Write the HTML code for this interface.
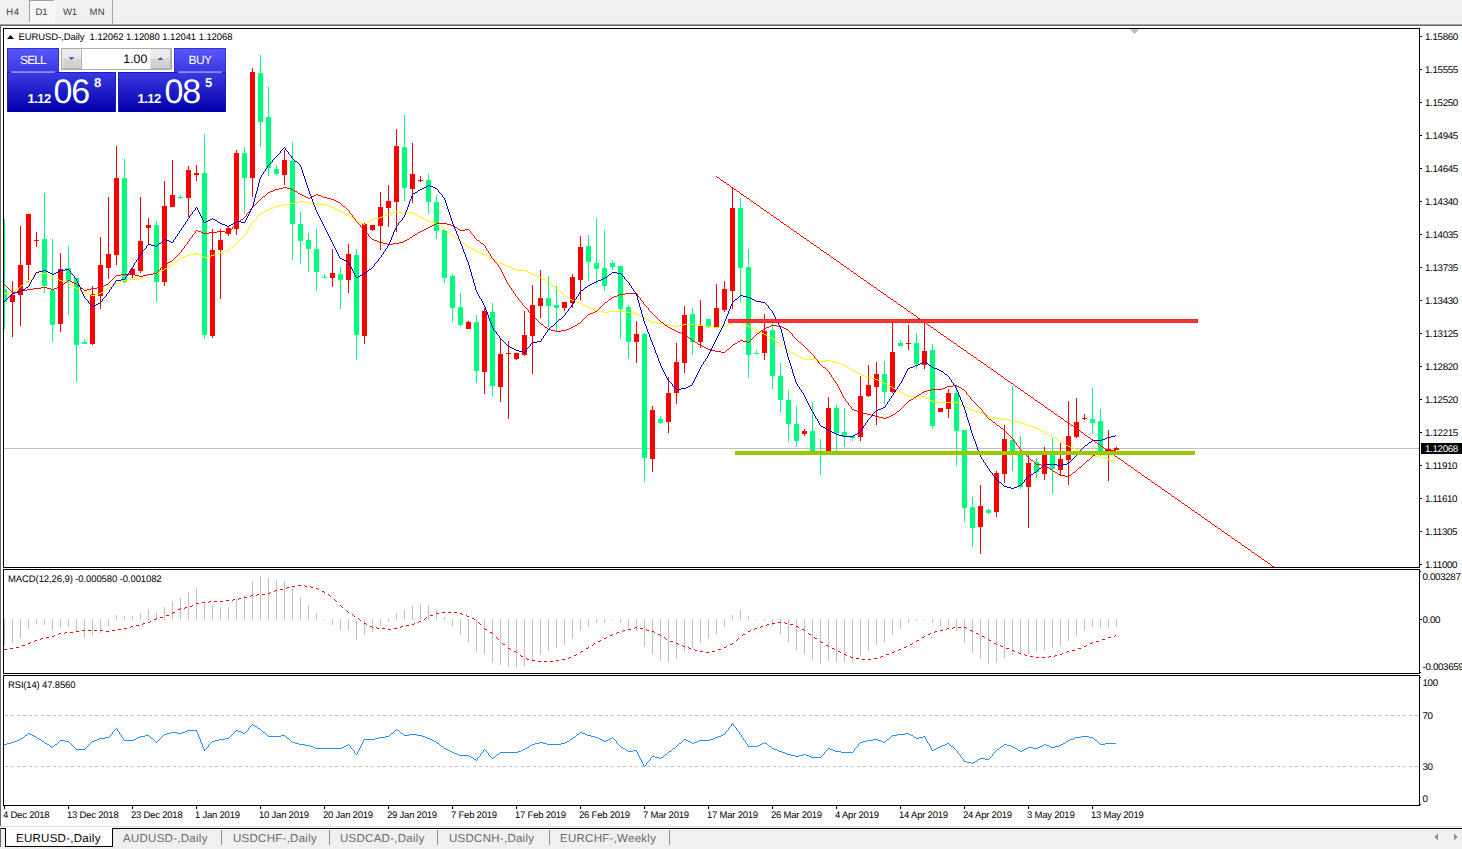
<!DOCTYPE html>
<html><head><meta charset="utf-8"><title>EURUSD</title>
<style>
html,body{margin:0;padding:0;overflow:hidden;}
body{width:1462px;height:849px;overflow:hidden;background:#fff;position:relative;font-family:"Liberation Sans",sans-serif;font-size:11px;color:#000;text-rendering:geometricPrecision;}
div{position:absolute;box-sizing:border-box;}
.topbar{left:0;top:0;width:1462px;height:24px;background:#f0f0f0;}
.tf{top:7.3px;font-size:9.5px;line-height:12px;color:#404040;letter-spacing:-0.1px;}
.plab,.ilab{left:1425px;font-size:9.75px;line-height:12px;white-space:nowrap;letter-spacing:-0.33px;}
.tick{left:1420px;width:2px;height:1px;background:#000;}
.dtick{top:805px;width:1px;height:4px;background:#000;}
.dlab{top:809px;font-size:9.5px;line-height:13px;white-space:nowrap;letter-spacing:-0.22px;}
.tab{top:831.5px;font-size:11.5px;line-height:15px;color:#6a6a6a;white-space:nowrap;letter-spacing:0.27px;}
.sep{top:830px;width:1px;height:15px;background:#8a8a8a;}
svg{position:absolute;left:0;top:0;}
</style></head><body>
<div class="topbar"></div>
<div style="left:0;top:23px;width:1462px;height:1px;background:#f7f7f7"></div><div style="left:0;top:24px;width:1462px;height:1px;background:#a0a0a0"></div><div style="left:0;top:25px;width:1462px;height:1px;background:#696969"></div>
<div style="left:0;top:25px;width:1px;height:801px;background:#696969"></div>
<div style="left:29px;top:0px;width:26px;height:23px;background:#fff"></div><div style="left:29px;top:0px;width:25px;height:22px;background-image:repeating-conic-gradient(#fff 0% 25%,#f0f0f0 0% 50%);background-size:2px 2px;border-left:1px solid #a0a0a0;border-top:1px solid #a0a0a0"></div>
<div class="tf" style="left:6.3px;letter-spacing:0.5px">H4</div>
<div class="tf" style="left:35.5px">D1</div>
<div class="tf" style="left:63px">W1</div>
<div class="tf" style="left:89.5px;letter-spacing:0.3px">MN</div>
<div style="left:112px;top:0;width:1px;height:24px;background:#a8a8a8"></div>

<!-- frames -->
<div style="left:3px;top:28px;width:1417px;height:540px;border:1px solid #000;border-right:none"></div>
<div style="left:3px;top:569px;width:1417px;height:105px;border:1px solid #000;border-right:none"></div>
<div style="left:3px;top:675px;width:1417px;height:131px;border:1px solid #000;border-right:none"></div>
<div style="left:1419px;top:28px;width:1px;height:540px;background:#000"></div><div style="left:1419px;top:569px;width:1px;height:105px;background:#000"></div><div style="left:1419px;top:675px;width:1px;height:131px;background:#000"></div>

<!-- bid line -->
<div style="left:4px;top:448px;width:1415px;height:1px;background:#c0c0c0"></div>
<div style="left:1421px;top:443px;width:41px;height:11px;background:#000"></div>
<div class="plab" style="top:443.5px;color:#fff">1.12068</div>
<div class="tick" style="top:36px"></div><div class="plab" style="top:31.5px">1.15860</div><div class="tick" style="top:69px"></div><div class="plab" style="top:64.5px">1.15555</div><div class="tick" style="top:102px"></div><div class="plab" style="top:97.5px">1.15250</div><div class="tick" style="top:135px"></div><div class="plab" style="top:130.5px">1.14945</div><div class="tick" style="top:168px"></div><div class="plab" style="top:163.5px">1.14645</div><div class="tick" style="top:201px"></div><div class="plab" style="top:196.5px">1.14340</div><div class="tick" style="top:234px"></div><div class="plab" style="top:229.5px">1.14035</div><div class="tick" style="top:267px"></div><div class="plab" style="top:262.5px">1.13735</div><div class="tick" style="top:300px"></div><div class="plab" style="top:295.5px">1.13430</div><div class="tick" style="top:333px"></div><div class="plab" style="top:328.5px">1.13125</div><div class="tick" style="top:366px"></div><div class="plab" style="top:361.5px">1.12820</div><div class="tick" style="top:399px"></div><div class="plab" style="top:394.5px">1.12520</div><div class="tick" style="top:432px"></div><div class="plab" style="top:427.5px">1.12215</div><div class="tick" style="top:465px"></div><div class="plab" style="top:460.5px">1.11910</div><div class="tick" style="top:498px"></div><div class="plab" style="top:493.5px">1.11610</div><div class="tick" style="top:531px"></div><div class="plab" style="top:526.5px">1.11305</div><div class="tick" style="top:564px"></div><div class="plab" style="top:559.5px">1.11000</div>
<div class="ilab" style="left:1422.5px;top:571.5px">0.003287</div><div class="tick" style="top:571px;width:1px"></div>
<div class="tick" style="top:619px"></div><div class="ilab" style="left:1422.5px;top:614.5px">0.00</div>
<div class="ilab" style="left:1422.5px;top:661.5px">-0.003659</div><div class="tick" style="top:672px;width:1px"></div>
<div class="ilab" style="left:1422.5px;top:677.5px">100</div><div class="tick" style="top:677px;width:1px"></div>
<div class="ilab" style="left:1422.5px;top:710.5px">70</div>
<div class="ilab" style="left:1422.5px;top:761.5px">30</div>
<div class="ilab" style="left:1422.5px;top:793.5px">0</div><div class="tick" style="top:804px;width:1px"></div>
<div class="dtick" style="left:4px"></div><div class="dlab" style="left:3px">4 Dec 2018</div><div class="dtick" style="left:68px"></div><div class="dlab" style="left:67px">13 Dec 2018</div><div class="dtick" style="left:132px"></div><div class="dlab" style="left:131px">23 Dec 2018</div><div class="dtick" style="left:196px"></div><div class="dlab" style="left:195px">1 Jan 2019</div><div class="dtick" style="left:260px"></div><div class="dlab" style="left:259px">10 Jan 2019</div><div class="dtick" style="left:324px"></div><div class="dlab" style="left:323px">20 Jan 2019</div><div class="dtick" style="left:388px"></div><div class="dlab" style="left:387px">29 Jan 2019</div><div class="dtick" style="left:452px"></div><div class="dlab" style="left:451px">7 Feb 2019</div><div class="dtick" style="left:516px"></div><div class="dlab" style="left:515px">17 Feb 2019</div><div class="dtick" style="left:580px"></div><div class="dlab" style="left:579px">26 Feb 2019</div><div class="dtick" style="left:644px"></div><div class="dlab" style="left:643px">7 Mar 2019</div><div class="dtick" style="left:708px"></div><div class="dlab" style="left:707px">17 Mar 2019</div><div class="dtick" style="left:772px"></div><div class="dlab" style="left:771px">26 Mar 2019</div><div class="dtick" style="left:836px"></div><div class="dlab" style="left:835px">4 Apr 2019</div><div class="dtick" style="left:900px"></div><div class="dlab" style="left:899px">14 Apr 2019</div><div class="dtick" style="left:964px"></div><div class="dlab" style="left:963px">24 Apr 2019</div><div class="dtick" style="left:1028px"></div><div class="dlab" style="left:1027px">3 May 2019</div><div class="dtick" style="left:1092px"></div><div class="dlab" style="left:1091px">13 May 2019</div>

<svg width="1462" height="849" viewBox="0 0 1462 849" shape-rendering="crispEdges">
<line x1="5" y1="715.5" x2="1419" y2="715.5" stroke="#c0c0c0" stroke-dasharray="3,3"/>
<line x1="5" y1="766.5" x2="1419" y2="766.5" stroke="#c0c0c0" stroke-dasharray="3,3"/>
<path d="M1130 29h9v1h-9zM1131 30h7v1h-7zM1132 31h5v1h-5zM1133 32h3v1h-3zM1134 33h1v1h-1z" fill="#c0c0c0"/>
<defs><clipPath id="cc"><rect x="4" y="29" width="1415" height="538"/></clipPath></defs><g clip-path="url(#cc)"><rect x="4" y="219" width="1" height="110" fill="#00ff7f"/>
<rect x="2" y="289" width="5" height="13" fill="#00ff7f"/>
<rect x="12" y="281" width="1" height="56" fill="#ff0000"/>
<rect x="10" y="295" width="5" height="7" fill="#ff0000"/>
<rect x="20" y="226" width="1" height="100" fill="#ff0000"/>
<rect x="18" y="265" width="5" height="30" fill="#ff0000"/>
<rect x="28" y="214" width="1" height="68" fill="#ff0000"/>
<rect x="26" y="214" width="5" height="51" fill="#ff0000"/>
<rect x="36" y="232" width="1" height="15" fill="#ff0000"/>
<rect x="34" y="240" width="5" height="1" fill="#ff0000"/>
<rect x="44" y="193" width="1" height="100" fill="#00ff7f"/>
<rect x="42" y="239" width="5" height="47" fill="#00ff7f"/>
<rect x="52" y="239" width="1" height="103" fill="#00ff7f"/>
<rect x="50" y="290" width="5" height="35" fill="#00ff7f"/>
<rect x="60" y="253" width="1" height="79" fill="#ff0000"/>
<rect x="58" y="269" width="5" height="55" fill="#ff0000"/>
<rect x="68" y="246" width="1" height="69" fill="#00ff7f"/>
<rect x="66" y="268" width="5" height="13" fill="#00ff7f"/>
<rect x="76" y="278" width="1" height="104" fill="#00ff7f"/>
<rect x="74" y="278" width="5" height="67" fill="#00ff7f"/>
<rect x="84" y="339" width="1" height="5" fill="#00ff7f"/>
<rect x="82" y="342" width="5" height="2" fill="#00ff7f"/>
<rect x="92" y="286" width="1" height="59" fill="#ff0000"/>
<rect x="90" y="294" width="5" height="50" fill="#ff0000"/>
<rect x="100" y="237" width="1" height="72" fill="#ff0000"/>
<rect x="98" y="265" width="5" height="31" fill="#ff0000"/>
<rect x="108" y="197" width="1" height="82" fill="#ff0000"/>
<rect x="106" y="254" width="5" height="14" fill="#ff0000"/>
<rect x="116" y="146" width="1" height="119" fill="#ff0000"/>
<rect x="114" y="178" width="5" height="77" fill="#ff0000"/>
<rect x="124" y="159" width="1" height="124" fill="#00ff7f"/>
<rect x="122" y="178" width="5" height="104" fill="#00ff7f"/>
<rect x="132" y="268" width="1" height="10" fill="#ff0000"/>
<rect x="130" y="269" width="5" height="6" fill="#ff0000"/>
<rect x="140" y="197" width="1" height="76" fill="#ff0000"/>
<rect x="138" y="241" width="5" height="30" fill="#ff0000"/>
<rect x="148" y="218" width="1" height="27" fill="#ff0000"/>
<rect x="146" y="225" width="5" height="3" fill="#ff0000"/>
<rect x="156" y="221" width="1" height="81" fill="#00ff7f"/>
<rect x="154" y="225" width="5" height="57" fill="#00ff7f"/>
<rect x="164" y="181" width="1" height="105" fill="#ff0000"/>
<rect x="162" y="206" width="5" height="76" fill="#ff0000"/>
<rect x="172" y="160" width="1" height="47" fill="#ff0000"/>
<rect x="170" y="195" width="5" height="12" fill="#ff0000"/>
<rect x="180" y="195" width="1" height="4" fill="#00ff7f"/>
<rect x="178" y="197" width="5" height="1" fill="#00ff7f"/>
<rect x="188" y="166" width="1" height="51" fill="#ff0000"/>
<rect x="186" y="170" width="5" height="28" fill="#ff0000"/>
<rect x="196" y="165" width="1" height="16" fill="#ff0000"/>
<rect x="194" y="173" width="5" height="2" fill="#ff0000"/>
<rect x="204" y="134" width="1" height="205" fill="#00ff7f"/>
<rect x="202" y="173" width="5" height="162" fill="#00ff7f"/>
<rect x="212" y="229" width="1" height="109" fill="#ff0000"/>
<rect x="210" y="250" width="5" height="86" fill="#ff0000"/>
<rect x="220" y="229" width="1" height="70" fill="#ff0000"/>
<rect x="218" y="240" width="5" height="10" fill="#ff0000"/>
<rect x="228" y="226" width="1" height="10" fill="#ff0000"/>
<rect x="226" y="228" width="5" height="6" fill="#ff0000"/>
<rect x="236" y="150" width="1" height="85" fill="#ff0000"/>
<rect x="234" y="153" width="5" height="76" fill="#ff0000"/>
<rect x="244" y="147" width="1" height="67" fill="#00ff7f"/>
<rect x="242" y="153" width="5" height="25" fill="#00ff7f"/>
<rect x="252" y="68" width="1" height="129" fill="#ff0000"/>
<rect x="250" y="72" width="5" height="106" fill="#ff0000"/>
<rect x="260" y="55" width="1" height="92" fill="#00ff7f"/>
<rect x="258" y="73" width="5" height="49" fill="#00ff7f"/>
<rect x="268" y="87" width="1" height="89" fill="#00ff7f"/>
<rect x="266" y="117" width="5" height="51" fill="#00ff7f"/>
<rect x="276" y="165" width="1" height="10" fill="#00ff7f"/>
<rect x="274" y="169" width="5" height="5" fill="#00ff7f"/>
<rect x="284" y="150" width="1" height="35" fill="#ff0000"/>
<rect x="282" y="160" width="5" height="15" fill="#ff0000"/>
<rect x="292" y="142" width="1" height="118" fill="#00ff7f"/>
<rect x="290" y="161" width="5" height="63" fill="#00ff7f"/>
<rect x="300" y="212" width="1" height="52" fill="#00ff7f"/>
<rect x="298" y="224" width="5" height="17" fill="#00ff7f"/>
<rect x="308" y="233" width="1" height="39" fill="#00ff7f"/>
<rect x="306" y="240" width="5" height="9" fill="#00ff7f"/>
<rect x="316" y="229" width="1" height="62" fill="#00ff7f"/>
<rect x="314" y="249" width="5" height="23" fill="#00ff7f"/>
<rect x="324" y="274" width="1" height="4" fill="#00ff7f"/>
<rect x="322" y="277" width="5" height="1" fill="#00ff7f"/>
<rect x="332" y="249" width="1" height="38" fill="#ff0000"/>
<rect x="330" y="273" width="5" height="5" fill="#ff0000"/>
<rect x="340" y="267" width="1" height="42" fill="#00ff7f"/>
<rect x="338" y="274" width="5" height="6" fill="#00ff7f"/>
<rect x="348" y="244" width="1" height="49" fill="#ff0000"/>
<rect x="346" y="254" width="5" height="26" fill="#ff0000"/>
<rect x="356" y="249" width="1" height="111" fill="#00ff7f"/>
<rect x="354" y="255" width="5" height="80" fill="#00ff7f"/>
<rect x="364" y="223" width="1" height="121" fill="#ff0000"/>
<rect x="362" y="224" width="5" height="112" fill="#ff0000"/>
<rect x="372" y="225" width="1" height="6" fill="#ff0000"/>
<rect x="370" y="225" width="5" height="5" fill="#ff0000"/>
<rect x="380" y="192" width="1" height="58" fill="#ff0000"/>
<rect x="378" y="207" width="5" height="19" fill="#ff0000"/>
<rect x="388" y="185" width="1" height="42" fill="#ff0000"/>
<rect x="386" y="201" width="5" height="7" fill="#ff0000"/>
<rect x="396" y="129" width="1" height="103" fill="#ff0000"/>
<rect x="394" y="146" width="5" height="56" fill="#ff0000"/>
<rect x="404" y="115" width="1" height="86" fill="#00ff7f"/>
<rect x="402" y="147" width="5" height="41" fill="#00ff7f"/>
<rect x="412" y="143" width="1" height="60" fill="#ff0000"/>
<rect x="410" y="174" width="5" height="15" fill="#ff0000"/>
<rect x="420" y="176" width="1" height="6" fill="#ff0000"/>
<rect x="418" y="180" width="5" height="1" fill="#ff0000"/>
<rect x="428" y="174" width="1" height="40" fill="#00ff7f"/>
<rect x="426" y="180" width="5" height="22" fill="#00ff7f"/>
<rect x="436" y="195" width="1" height="44" fill="#00ff7f"/>
<rect x="434" y="202" width="5" height="29" fill="#00ff7f"/>
<rect x="444" y="230" width="1" height="53" fill="#00ff7f"/>
<rect x="442" y="230" width="5" height="48" fill="#00ff7f"/>
<rect x="452" y="274" width="1" height="48" fill="#00ff7f"/>
<rect x="450" y="276" width="5" height="32" fill="#00ff7f"/>
<rect x="460" y="293" width="1" height="33" fill="#00ff7f"/>
<rect x="458" y="307" width="5" height="18" fill="#00ff7f"/>
<rect x="468" y="321" width="1" height="8" fill="#ff0000"/>
<rect x="466" y="322" width="5" height="7" fill="#ff0000"/>
<rect x="476" y="315" width="1" height="68" fill="#00ff7f"/>
<rect x="474" y="322" width="5" height="49" fill="#00ff7f"/>
<rect x="484" y="308" width="1" height="86" fill="#ff0000"/>
<rect x="482" y="311" width="5" height="61" fill="#ff0000"/>
<rect x="492" y="303" width="1" height="93" fill="#00ff7f"/>
<rect x="490" y="312" width="5" height="74" fill="#00ff7f"/>
<rect x="500" y="338" width="1" height="64" fill="#ff0000"/>
<rect x="498" y="354" width="5" height="33" fill="#ff0000"/>
<rect x="508" y="341" width="1" height="78" fill="#ff0000"/>
<rect x="506" y="353" width="5" height="1" fill="#ff0000"/>
<rect x="516" y="353" width="1" height="7" fill="#ff0000"/>
<rect x="514" y="353" width="5" height="6" fill="#ff0000"/>
<rect x="524" y="311" width="1" height="45" fill="#ff0000"/>
<rect x="522" y="335" width="5" height="20" fill="#ff0000"/>
<rect x="532" y="285" width="1" height="89" fill="#ff0000"/>
<rect x="530" y="305" width="5" height="31" fill="#ff0000"/>
<rect x="540" y="270" width="1" height="48" fill="#ff0000"/>
<rect x="538" y="298" width="5" height="8" fill="#ff0000"/>
<rect x="548" y="276" width="1" height="51" fill="#00ff7f"/>
<rect x="546" y="298" width="5" height="8" fill="#00ff7f"/>
<rect x="556" y="286" width="1" height="46" fill="#00ff7f"/>
<rect x="554" y="305" width="5" height="3" fill="#00ff7f"/>
<rect x="564" y="302" width="1" height="9" fill="#ff0000"/>
<rect x="562" y="302" width="5" height="6" fill="#ff0000"/>
<rect x="572" y="274" width="1" height="34" fill="#ff0000"/>
<rect x="570" y="277" width="5" height="26" fill="#ff0000"/>
<rect x="580" y="236" width="1" height="64" fill="#ff0000"/>
<rect x="578" y="247" width="5" height="33" fill="#ff0000"/>
<rect x="588" y="235" width="1" height="46" fill="#00ff7f"/>
<rect x="586" y="246" width="5" height="16" fill="#00ff7f"/>
<rect x="596" y="218" width="1" height="66" fill="#00ff7f"/>
<rect x="594" y="263" width="5" height="6" fill="#00ff7f"/>
<rect x="604" y="230" width="1" height="61" fill="#00ff7f"/>
<rect x="602" y="268" width="5" height="18" fill="#00ff7f"/>
<rect x="612" y="260" width="1" height="10" fill="#00ff7f"/>
<rect x="610" y="263" width="5" height="4" fill="#00ff7f"/>
<rect x="620" y="266" width="1" height="73" fill="#00ff7f"/>
<rect x="618" y="266" width="5" height="43" fill="#00ff7f"/>
<rect x="628" y="305" width="1" height="54" fill="#00ff7f"/>
<rect x="626" y="307" width="5" height="35" fill="#00ff7f"/>
<rect x="636" y="321" width="1" height="42" fill="#ff0000"/>
<rect x="634" y="334" width="5" height="8" fill="#ff0000"/>
<rect x="644" y="333" width="1" height="149" fill="#00ff7f"/>
<rect x="642" y="334" width="5" height="124" fill="#00ff7f"/>
<rect x="652" y="406" width="1" height="66" fill="#ff0000"/>
<rect x="650" y="410" width="5" height="49" fill="#ff0000"/>
<rect x="660" y="416" width="1" height="8" fill="#00ff7f"/>
<rect x="658" y="419" width="5" height="4" fill="#00ff7f"/>
<rect x="668" y="377" width="1" height="56" fill="#ff0000"/>
<rect x="666" y="393" width="5" height="29" fill="#ff0000"/>
<rect x="676" y="343" width="1" height="61" fill="#ff0000"/>
<rect x="674" y="362" width="5" height="31" fill="#ff0000"/>
<rect x="684" y="306" width="1" height="67" fill="#ff0000"/>
<rect x="682" y="315" width="5" height="48" fill="#ff0000"/>
<rect x="692" y="308" width="1" height="47" fill="#00ff7f"/>
<rect x="690" y="314" width="5" height="28" fill="#00ff7f"/>
<rect x="700" y="300" width="1" height="48" fill="#ff0000"/>
<rect x="698" y="325" width="5" height="17" fill="#ff0000"/>
<rect x="708" y="319" width="1" height="9" fill="#00ff7f"/>
<rect x="706" y="319" width="5" height="8" fill="#00ff7f"/>
<rect x="716" y="284" width="1" height="44" fill="#ff0000"/>
<rect x="714" y="308" width="5" height="19" fill="#ff0000"/>
<rect x="724" y="281" width="1" height="31" fill="#ff0000"/>
<rect x="722" y="289" width="5" height="21" fill="#ff0000"/>
<rect x="732" y="187" width="1" height="122" fill="#ff0000"/>
<rect x="730" y="208" width="5" height="83" fill="#ff0000"/>
<rect x="740" y="198" width="1" height="104" fill="#00ff7f"/>
<rect x="738" y="208" width="5" height="60" fill="#00ff7f"/>
<rect x="748" y="249" width="1" height="129" fill="#00ff7f"/>
<rect x="746" y="267" width="5" height="88" fill="#00ff7f"/>
<rect x="756" y="350" width="1" height="4" fill="#00ff7f"/>
<rect x="754" y="353" width="5" height="1" fill="#00ff7f"/>
<rect x="764" y="314" width="1" height="46" fill="#ff0000"/>
<rect x="762" y="331" width="5" height="22" fill="#ff0000"/>
<rect x="772" y="323" width="1" height="66" fill="#00ff7f"/>
<rect x="770" y="330" width="5" height="46" fill="#00ff7f"/>
<rect x="780" y="363" width="1" height="49" fill="#00ff7f"/>
<rect x="778" y="376" width="5" height="24" fill="#00ff7f"/>
<rect x="788" y="390" width="1" height="52" fill="#00ff7f"/>
<rect x="786" y="400" width="5" height="24" fill="#00ff7f"/>
<rect x="796" y="406" width="1" height="41" fill="#00ff7f"/>
<rect x="794" y="424" width="5" height="17" fill="#00ff7f"/>
<rect x="804" y="429" width="1" height="7" fill="#ff0000"/>
<rect x="802" y="431" width="5" height="3" fill="#ff0000"/>
<rect x="812" y="402" width="1" height="50" fill="#00ff7f"/>
<rect x="810" y="431" width="5" height="20" fill="#00ff7f"/>
<rect x="820" y="439" width="1" height="36" fill="#00ff7f"/>
<rect x="818" y="451" width="5" height="2" fill="#00ff7f"/>
<rect x="828" y="397" width="1" height="55" fill="#ff0000"/>
<rect x="826" y="408" width="5" height="43" fill="#ff0000"/>
<rect x="836" y="405" width="1" height="46" fill="#00ff7f"/>
<rect x="834" y="408" width="5" height="25" fill="#00ff7f"/>
<rect x="844" y="408" width="1" height="39" fill="#00ff7f"/>
<rect x="842" y="432" width="5" height="5" fill="#00ff7f"/>
<rect x="852" y="436" width="1" height="5" fill="#00ff7f"/>
<rect x="850" y="436" width="5" height="2" fill="#00ff7f"/>
<rect x="860" y="376" width="1" height="65" fill="#ff0000"/>
<rect x="858" y="396" width="5" height="41" fill="#ff0000"/>
<rect x="868" y="365" width="1" height="32" fill="#ff0000"/>
<rect x="866" y="385" width="5" height="11" fill="#ff0000"/>
<rect x="876" y="362" width="1" height="63" fill="#ff0000"/>
<rect x="874" y="374" width="5" height="13" fill="#ff0000"/>
<rect x="884" y="361" width="1" height="43" fill="#00ff7f"/>
<rect x="882" y="374" width="5" height="18" fill="#00ff7f"/>
<rect x="892" y="323" width="1" height="70" fill="#ff0000"/>
<rect x="890" y="352" width="5" height="40" fill="#ff0000"/>
<rect x="900" y="340" width="1" height="6" fill="#00ff7f"/>
<rect x="898" y="343" width="5" height="3" fill="#00ff7f"/>
<rect x="908" y="325" width="1" height="25" fill="#ff0000"/>
<rect x="906" y="343" width="5" height="1" fill="#ff0000"/>
<rect x="916" y="333" width="1" height="36" fill="#00ff7f"/>
<rect x="914" y="343" width="5" height="21" fill="#00ff7f"/>
<rect x="924" y="322" width="1" height="47" fill="#ff0000"/>
<rect x="922" y="351" width="5" height="14" fill="#ff0000"/>
<rect x="932" y="344" width="1" height="85" fill="#00ff7f"/>
<rect x="930" y="350" width="5" height="76" fill="#00ff7f"/>
<rect x="940" y="408" width="1" height="4" fill="#ff0000"/>
<rect x="938" y="408" width="5" height="4" fill="#ff0000"/>
<rect x="948" y="389" width="1" height="29" fill="#ff0000"/>
<rect x="946" y="393" width="5" height="16" fill="#ff0000"/>
<rect x="956" y="386" width="1" height="80" fill="#00ff7f"/>
<rect x="954" y="393" width="5" height="38" fill="#00ff7f"/>
<rect x="964" y="430" width="1" height="92" fill="#00ff7f"/>
<rect x="962" y="430" width="5" height="78" fill="#00ff7f"/>
<rect x="972" y="497" width="1" height="50" fill="#00ff7f"/>
<rect x="970" y="507" width="5" height="21" fill="#00ff7f"/>
<rect x="980" y="485" width="1" height="69" fill="#ff0000"/>
<rect x="978" y="506" width="5" height="21" fill="#ff0000"/>
<rect x="988" y="509" width="1" height="5" fill="#00ff7f"/>
<rect x="986" y="510" width="5" height="3" fill="#00ff7f"/>
<rect x="996" y="471" width="1" height="46" fill="#ff0000"/>
<rect x="994" y="473" width="5" height="39" fill="#ff0000"/>
<rect x="1004" y="425" width="1" height="58" fill="#ff0000"/>
<rect x="1002" y="439" width="5" height="35" fill="#ff0000"/>
<rect x="1012" y="386" width="1" height="85" fill="#00ff7f"/>
<rect x="1010" y="440" width="5" height="12" fill="#00ff7f"/>
<rect x="1020" y="436" width="1" height="53" fill="#00ff7f"/>
<rect x="1018" y="452" width="5" height="35" fill="#00ff7f"/>
<rect x="1028" y="455" width="1" height="73" fill="#ff0000"/>
<rect x="1026" y="463" width="5" height="24" fill="#ff0000"/>
<rect x="1036" y="458" width="1" height="20" fill="#00ff7f"/>
<rect x="1034" y="462" width="5" height="10" fill="#00ff7f"/>
<rect x="1044" y="447" width="1" height="33" fill="#ff0000"/>
<rect x="1042" y="455" width="5" height="19" fill="#ff0000"/>
<rect x="1052" y="438" width="1" height="56" fill="#00ff7f"/>
<rect x="1050" y="455" width="5" height="14" fill="#00ff7f"/>
<rect x="1060" y="443" width="1" height="32" fill="#ff0000"/>
<rect x="1058" y="459" width="5" height="11" fill="#ff0000"/>
<rect x="1068" y="401" width="1" height="84" fill="#ff0000"/>
<rect x="1066" y="436" width="5" height="24" fill="#ff0000"/>
<rect x="1076" y="398" width="1" height="40" fill="#ff0000"/>
<rect x="1074" y="422" width="5" height="15" fill="#ff0000"/>
<rect x="1084" y="414" width="1" height="6" fill="#ff0000"/>
<rect x="1082" y="418" width="5" height="1" fill="#ff0000"/>
<rect x="1092" y="388" width="1" height="46" fill="#00ff7f"/>
<rect x="1090" y="419" width="5" height="4" fill="#00ff7f"/>
<rect x="1100" y="409" width="1" height="47" fill="#00ff7f"/>
<rect x="1098" y="421" width="5" height="31" fill="#00ff7f"/>
<rect x="1108" y="430" width="1" height="51" fill="#ff0000"/>
<rect x="1106" y="449" width="5" height="2" fill="#ff0000"/>
<rect x="1116" y="447" width="1" height="3" fill="#ff0000"/>
<rect x="1114" y="448" width="5" height="2" fill="#ff0000"/></g>
<path d="M299 201h6v1h-6zM295 202h4v1h-4zM305 202h6v1h-6zM289 203h6v1h-6zM311 203h4v1h-4zM283 204h6v1h-6zM315 204h11v1h-11zM279 205h4v1h-4zM326 205h3v1h-3zM275 206h4v1h-4zM329 206h2v1h-2zM273 207h2v1h-2zM331 207h3v1h-3zM270 208h3v1h-3zM334 208h2v1h-2zM268 209h2v1h-2zM336 209h2v1h-2zM266 210h2v1h-2zM338 210h2v1h-2zM264 211h2v1h-2zM340 211h2v1h-2zM395 211h4v1h-4zM262 212h2v1h-2zM342 212h3v1h-3zM393 212h2v1h-2zM399 212h4v1h-4zM409 212h4v1h-4zM260 213h2v1h-2zM345 213h2v1h-2zM390 213h3v1h-3zM403 213h6v1h-6zM413 213h2v1h-2zM259 214h1v1h-1zM347 214h2v1h-2zM387 214h3v1h-3zM415 214h2v1h-2zM258 215h1v1h-1zM349 215h1v1h-1zM385 215h2v1h-2zM417 215h1v1h-1zM257 216h1v1h-1zM350 216h1v1h-1zM382 216h3v1h-3zM418 216h2v1h-2zM256 217h1v1h-1zM351 217h2v1h-2zM379 217h3v1h-3zM420 217h2v1h-2zM256 218h1v1h-1zM353 218h1v1h-1zM375 218h4v1h-4zM422 218h2v1h-2zM255 219h1v1h-1zM354 219h1v1h-1zM372 219h3v1h-3zM424 219h2v1h-2zM254 220h1v1h-1zM355 220h1v1h-1zM370 220h2v1h-2zM426 220h2v1h-2zM253 221h1v1h-1zM356 221h2v1h-2zM369 221h1v1h-1zM428 221h3v1h-3zM252 222h1v1h-1zM358 222h3v1h-3zM367 222h2v1h-2zM431 222h4v1h-4zM251 223h1v1h-1zM361 223h2v1h-2zM365 223h2v1h-2zM435 223h2v1h-2zM251 224h1v1h-1zM363 224h2v1h-2zM437 224h2v1h-2zM250 225h1v1h-1zM439 225h1v1h-1zM250 226h1v1h-1zM440 226h1v1h-1zM249 227h1v1h-1zM441 227h2v1h-2zM248 228h1v1h-1zM443 228h1v1h-1zM248 229h1v1h-1zM444 229h1v1h-1zM247 230h1v1h-1zM445 230h2v1h-2zM246 231h1v1h-1zM447 231h1v1h-1zM246 232h1v1h-1zM448 232h1v1h-1zM245 233h1v1h-1zM449 233h2v1h-2zM245 234h1v1h-1zM451 234h1v1h-1zM244 235h1v1h-1zM452 235h1v1h-1zM243 236h1v1h-1zM453 236h2v1h-2zM242 237h1v1h-1zM455 237h1v1h-1zM241 238h1v1h-1zM456 238h1v1h-1zM240 239h1v1h-1zM457 239h2v1h-2zM239 240h1v1h-1zM459 240h1v1h-1zM238 241h1v1h-1zM460 241h1v1h-1zM237 242h1v1h-1zM461 242h2v1h-2zM236 243h1v1h-1zM463 243h2v1h-2zM235 244h1v1h-1zM465 244h1v1h-1zM234 245h1v1h-1zM466 245h2v1h-2zM233 246h1v1h-1zM468 246h1v1h-1zM231 247h2v1h-2zM469 247h2v1h-2zM230 248h1v1h-1zM471 248h2v1h-2zM229 249h1v1h-1zM473 249h1v1h-1zM227 250h2v1h-2zM474 250h2v1h-2zM223 251h4v1h-4zM476 251h2v1h-2zM219 252h4v1h-4zM478 252h3v1h-3zM195 253h3v1h-3zM217 253h2v1h-2zM481 253h2v1h-2zM191 254h4v1h-4zM198 254h2v1h-2zM214 254h3v1h-3zM483 254h2v1h-2zM187 255h4v1h-4zM200 255h2v1h-2zM211 255h3v1h-3zM485 255h2v1h-2zM185 256h2v1h-2zM202 256h2v1h-2zM207 256h4v1h-4zM487 256h2v1h-2zM182 257h3v1h-3zM204 257h3v1h-3zM489 257h1v1h-1zM180 258h2v1h-2zM490 258h2v1h-2zM179 259h1v1h-1zM492 259h2v1h-2zM177 260h2v1h-2zM494 260h2v1h-2zM176 261h1v1h-1zM496 261h2v1h-2zM175 262h1v1h-1zM498 262h2v1h-2zM173 263h2v1h-2zM500 263h2v1h-2zM172 264h1v1h-1zM502 264h3v1h-3zM170 265h2v1h-2zM505 265h2v1h-2zM169 266h1v1h-1zM507 266h3v1h-3zM167 267h2v1h-2zM510 267h2v1h-2zM165 268h2v1h-2zM512 268h2v1h-2zM164 269h1v1h-1zM514 269h2v1h-2zM162 270h2v1h-2zM516 270h10v1h-10zM160 271h2v1h-2zM526 271h2v1h-2zM158 272h2v1h-2zM528 272h2v1h-2zM41 273h5v1h-5zM153 273h5v1h-5zM530 273h2v1h-2zM36 274h5v1h-5zM46 274h2v1h-2zM148 274h5v1h-5zM532 274h2v1h-2zM35 275h1v1h-1zM48 275h2v1h-2zM146 275h2v1h-2zM534 275h3v1h-3zM33 276h2v1h-2zM50 276h2v1h-2zM144 276h2v1h-2zM537 276h2v1h-2zM32 277h1v1h-1zM52 277h2v1h-2zM142 277h2v1h-2zM539 277h2v1h-2zM31 278h1v1h-1zM54 278h3v1h-3zM137 278h5v1h-5zM541 278h2v1h-2zM29 279h2v1h-2zM57 279h2v1h-2zM129 279h8v1h-8zM543 279h2v1h-2zM28 280h1v1h-1zM59 280h3v1h-3zM123 280h6v1h-6zM545 280h1v1h-1zM27 281h1v1h-1zM62 281h3v1h-3zM121 281h2v1h-2zM546 281h2v1h-2zM25 282h2v1h-2zM65 282h2v1h-2zM118 282h3v1h-3zM548 282h1v1h-1zM24 283h1v1h-1zM67 283h2v1h-2zM116 283h2v1h-2zM549 283h2v1h-2zM23 284h1v1h-1zM69 284h2v1h-2zM114 284h2v1h-2zM551 284h1v1h-1zM21 285h2v1h-2zM71 285h2v1h-2zM113 285h1v1h-1zM552 285h1v1h-1zM20 286h1v1h-1zM73 286h1v1h-1zM111 286h2v1h-2zM553 286h2v1h-2zM19 287h1v1h-1zM74 287h2v1h-2zM109 287h2v1h-2zM555 287h1v1h-1zM17 288h2v1h-2zM76 288h2v1h-2zM108 288h1v1h-1zM556 288h1v1h-1zM16 289h1v1h-1zM78 289h2v1h-2zM106 289h2v1h-2zM557 289h1v1h-1zM15 290h1v1h-1zM80 290h2v1h-2zM105 290h1v1h-1zM558 290h1v1h-1zM13 291h2v1h-2zM82 291h2v1h-2zM103 291h2v1h-2zM559 291h2v1h-2zM9 292h4v1h-4zM84 292h2v1h-2zM101 292h2v1h-2zM561 292h1v1h-1zM4 293h5v1h-5zM86 293h3v1h-3zM99 293h2v1h-2zM562 293h1v1h-1zM89 294h2v1h-2zM95 294h4v1h-4zM563 294h1v1h-1zM91 295h4v1h-4zM564 295h1v1h-1zM565 296h2v1h-2zM567 297h2v1h-2zM569 298h1v1h-1zM570 299h2v1h-2zM572 300h2v1h-2zM574 301h3v1h-3zM577 302h2v1h-2zM579 303h3v1h-3zM582 304h2v1h-2zM584 305h2v1h-2zM586 306h2v1h-2zM588 307h2v1h-2zM590 308h3v1h-3zM593 309h2v1h-2zM595 310h4v1h-4zM599 311h4v1h-4zM609 311h16v1h-16zM603 312h6v1h-6zM625 312h8v1h-8zM633 313h4v1h-4zM637 314h2v1h-2zM639 315h2v1h-2zM641 316h1v1h-1zM642 317h2v1h-2zM644 318h2v1h-2zM646 319h2v1h-2zM648 320h2v1h-2zM650 321h2v1h-2zM737 321h4v1h-4zM652 322h5v1h-5zM732 322h5v1h-5zM741 322h2v1h-2zM657 323h6v1h-6zM730 323h2v1h-2zM743 323h2v1h-2zM663 324h4v1h-4zM683 324h14v1h-14zM728 324h2v1h-2zM745 324h1v1h-1zM667 325h6v1h-6zM679 325h4v1h-4zM697 325h8v1h-8zM726 325h2v1h-2zM746 325h2v1h-2zM673 326h6v1h-6zM705 326h8v1h-8zM721 326h5v1h-5zM748 326h2v1h-2zM713 327h8v1h-8zM750 327h2v1h-2zM752 328h2v1h-2zM754 329h2v1h-2zM756 330h2v1h-2zM758 331h2v1h-2zM760 332h2v1h-2zM762 333h2v1h-2zM764 334h2v1h-2zM766 335h2v1h-2zM768 336h2v1h-2zM770 337h2v1h-2zM772 338h1v1h-1zM773 339h2v1h-2zM775 340h1v1h-1zM776 341h1v1h-1zM777 342h2v1h-2zM779 343h1v1h-1zM780 344h1v1h-1zM781 345h2v1h-2zM783 346h1v1h-1zM784 347h1v1h-1zM785 348h2v1h-2zM787 349h1v1h-1zM788 350h1v1h-1zM789 351h2v1h-2zM791 352h2v1h-2zM793 353h1v1h-1zM794 354h2v1h-2zM796 355h2v1h-2zM798 356h2v1h-2zM800 357h2v1h-2zM802 358h2v1h-2zM804 359h11v1h-11zM815 360h4v1h-4zM825 360h6v1h-6zM819 361h6v1h-6zM831 361h4v1h-4zM835 362h3v1h-3zM838 363h3v1h-3zM841 364h2v1h-2zM843 365h2v1h-2zM845 366h2v1h-2zM847 367h2v1h-2zM849 368h1v1h-1zM850 369h2v1h-2zM852 370h2v1h-2zM854 371h2v1h-2zM856 372h2v1h-2zM858 373h2v1h-2zM860 374h2v1h-2zM862 375h3v1h-3zM865 376h2v1h-2zM867 377h4v1h-4zM871 378h4v1h-4zM875 379h3v1h-3zM878 380h2v1h-2zM880 381h2v1h-2zM882 382h2v1h-2zM884 383h2v1h-2zM886 384h2v1h-2zM888 385h2v1h-2zM890 386h2v1h-2zM892 387h1v1h-1zM893 388h2v1h-2zM895 389h2v1h-2zM897 390h1v1h-1zM898 391h2v1h-2zM900 392h2v1h-2zM902 393h2v1h-2zM904 394h2v1h-2zM906 395h2v1h-2zM908 396h17v1h-17zM925 397h2v1h-2zM927 398h2v1h-2zM929 399h1v1h-1zM930 400h2v1h-2zM932 401h5v1h-5zM937 402h21v1h-21zM958 403h2v1h-2zM960 404h2v1h-2zM962 405h2v1h-2zM964 406h2v1h-2zM966 407h2v1h-2zM968 408h2v1h-2zM970 409h2v1h-2zM972 410h3v1h-3zM975 411h4v1h-4zM979 412h3v1h-3zM982 413h2v1h-2zM984 414h2v1h-2zM986 415h2v1h-2zM988 416h3v1h-3zM991 417h4v1h-4zM995 418h6v1h-6zM1001 419h8v1h-8zM1009 420h6v1h-6zM1015 421h4v1h-4zM1019 422h3v1h-3zM1022 423h3v1h-3zM1025 424h2v1h-2zM1027 425h3v1h-3zM1030 426h3v1h-3zM1033 427h2v1h-2zM1035 428h3v1h-3zM1038 429h2v1h-2zM1040 430h2v1h-2zM1042 431h2v1h-2zM1044 432h1v1h-1zM1045 433h2v1h-2zM1047 434h2v1h-2zM1049 435h1v1h-1zM1050 436h2v1h-2zM1052 437h2v1h-2zM1054 438h2v1h-2zM1056 439h2v1h-2zM1058 440h2v1h-2zM1060 441h1v1h-1zM1061 442h2v1h-2zM1063 443h2v1h-2zM1065 444h1v1h-1zM1066 445h2v1h-2zM1068 446h2v1h-2zM1070 447h3v1h-3zM1073 448h2v1h-2zM1075 449h3v1h-3zM1078 450h2v1h-2zM1080 451h2v1h-2zM1082 452h2v1h-2zM1084 453h3v1h-3zM1087 454h4v1h-4zM1091 455h4v1h-4zM1095 456h4v1h-4zM1099 457h4v1h-4zM1103 458h4v1h-4zM1107 459h3v1h-3zM1110 460h3v1h-3zM1113 461h2v1h-2zM1115 462h1v1h-1z" fill="#ffff00"/>
<path d="M283 187h4v1h-4zM279 188h4v1h-4zM287 188h4v1h-4zM275 189h4v1h-4zM291 189h2v1h-2zM273 190h2v1h-2zM293 190h2v1h-2zM270 191h3v1h-3zM295 191h2v1h-2zM268 192h2v1h-2zM297 192h1v1h-1zM267 193h1v1h-1zM298 193h2v1h-2zM266 194h1v1h-1zM300 194h2v1h-2zM316 194h2v1h-2zM265 195h1v1h-1zM302 195h2v1h-2zM314 195h2v1h-2zM318 195h3v1h-3zM263 196h2v1h-2zM304 196h2v1h-2zM312 196h2v1h-2zM321 196h2v1h-2zM262 197h1v1h-1zM306 197h2v1h-2zM310 197h2v1h-2zM323 197h4v1h-4zM261 198h1v1h-1zM308 198h2v1h-2zM327 198h4v1h-4zM260 199h1v1h-1zM331 199h3v1h-3zM259 200h1v1h-1zM334 200h2v1h-2zM258 201h1v1h-1zM336 201h2v1h-2zM257 202h1v1h-1zM338 202h2v1h-2zM256 203h1v1h-1zM340 203h1v1h-1zM255 204h1v1h-1zM341 204h1v1h-1zM254 205h1v1h-1zM342 205h1v1h-1zM253 206h1v1h-1zM343 206h2v1h-2zM252 207h1v1h-1zM345 207h1v1h-1zM251 208h1v1h-1zM346 208h1v1h-1zM250 209h1v1h-1zM347 209h1v1h-1zM250 210h1v1h-1zM348 210h1v1h-1zM249 211h1v1h-1zM349 211h1v1h-1zM248 212h1v1h-1zM349 212h1v1h-1zM247 213h1v1h-1zM350 213h1v1h-1zM246 214h1v1h-1zM351 214h1v1h-1zM246 215h1v1h-1zM352 215h1v1h-1zM245 216h1v1h-1zM352 216h1v1h-1zM244 217h1v1h-1zM353 217h1v1h-1zM243 218h1v1h-1zM354 218h1v1h-1zM241 219h2v1h-2zM355 219h1v1h-1zM240 220h1v1h-1zM355 220h1v1h-1zM239 221h1v1h-1zM356 221h1v1h-1zM237 222h2v1h-2zM357 222h1v1h-1zM236 223h1v1h-1zM358 223h1v1h-1zM436 223h11v1h-11zM235 224h1v1h-1zM359 224h1v1h-1zM434 224h2v1h-2zM447 224h4v1h-4zM234 225h1v1h-1zM360 225h1v1h-1zM432 225h2v1h-2zM451 225h2v1h-2zM233 226h1v1h-1zM360 226h1v1h-1zM430 226h2v1h-2zM453 226h2v1h-2zM232 227h1v1h-1zM361 227h1v1h-1zM428 227h2v1h-2zM455 227h2v1h-2zM232 228h1v1h-1zM362 228h1v1h-1zM426 228h2v1h-2zM457 228h1v1h-1zM231 229h1v1h-1zM363 229h1v1h-1zM424 229h2v1h-2zM458 229h2v1h-2zM465 229h4v1h-4zM196 230h2v1h-2zM230 230h1v1h-1zM364 230h1v1h-1zM422 230h2v1h-2zM460 230h5v1h-5zM469 230h1v1h-1zM195 231h1v1h-1zM198 231h3v1h-3zM217 231h8v1h-8zM229 231h1v1h-1zM365 231h1v1h-1zM420 231h2v1h-2zM470 231h1v1h-1zM195 232h1v1h-1zM201 232h2v1h-2zM209 232h8v1h-8zM225 232h4v1h-4zM366 232h1v1h-1zM418 232h2v1h-2zM470 232h1v1h-1zM194 233h1v1h-1zM203 233h6v1h-6zM367 233h1v1h-1zM417 233h1v1h-1zM471 233h1v1h-1zM193 234h1v1h-1zM368 234h1v1h-1zM415 234h2v1h-2zM472 234h1v1h-1zM192 235h1v1h-1zM368 235h1v1h-1zM413 235h2v1h-2zM473 235h1v1h-1zM192 236h1v1h-1zM369 236h1v1h-1zM412 236h1v1h-1zM474 236h1v1h-1zM191 237h1v1h-1zM370 237h1v1h-1zM410 237h2v1h-2zM474 237h1v1h-1zM190 238h1v1h-1zM371 238h1v1h-1zM409 238h1v1h-1zM475 238h1v1h-1zM189 239h1v1h-1zM372 239h2v1h-2zM407 239h2v1h-2zM476 239h1v1h-1zM189 240h1v1h-1zM374 240h3v1h-3zM405 240h2v1h-2zM477 240h2v1h-2zM188 241h1v1h-1zM377 241h2v1h-2zM403 241h2v1h-2zM479 241h1v1h-1zM187 242h1v1h-1zM379 242h4v1h-4zM399 242h4v1h-4zM480 242h1v1h-1zM187 243h1v1h-1zM383 243h4v1h-4zM393 243h6v1h-6zM481 243h2v1h-2zM186 244h1v1h-1zM387 244h6v1h-6zM483 244h1v1h-1zM185 245h1v1h-1zM484 245h1v1h-1zM184 246h1v1h-1zM485 246h1v1h-1zM184 247h1v1h-1zM485 247h1v1h-1zM183 248h1v1h-1zM486 248h1v1h-1zM182 249h1v1h-1zM486 249h1v1h-1zM181 250h1v1h-1zM487 250h1v1h-1zM181 251h1v1h-1zM488 251h1v1h-1zM180 252h1v1h-1zM488 252h1v1h-1zM179 253h1v1h-1zM489 253h1v1h-1zM178 254h1v1h-1zM490 254h1v1h-1zM177 255h1v1h-1zM490 255h1v1h-1zM176 256h1v1h-1zM491 256h1v1h-1zM175 257h1v1h-1zM491 257h1v1h-1zM174 258h1v1h-1zM492 258h1v1h-1zM173 259h1v1h-1zM493 259h1v1h-1zM172 260h1v1h-1zM494 260h1v1h-1zM170 261h2v1h-2zM494 261h1v1h-1zM168 262h2v1h-2zM495 262h1v1h-1zM166 263h2v1h-2zM496 263h1v1h-1zM164 264h2v1h-2zM497 264h1v1h-1zM163 265h1v1h-1zM498 265h1v1h-1zM162 266h1v1h-1zM498 266h1v1h-1zM161 267h1v1h-1zM499 267h1v1h-1zM160 268h1v1h-1zM500 268h1v1h-1zM160 269h1v1h-1zM500 269h1v1h-1zM159 270h1v1h-1zM501 270h1v1h-1zM158 271h1v1h-1zM501 271h1v1h-1zM157 272h1v1h-1zM502 272h1v1h-1zM153 273h4v1h-4zM502 273h1v1h-1zM121 274h14v1h-14zM147 274h6v1h-6zM503 274h1v1h-1zM116 275h5v1h-5zM135 275h4v1h-4zM143 275h4v1h-4zM503 275h1v1h-1zM115 276h1v1h-1zM139 276h4v1h-4zM504 276h1v1h-1zM114 277h1v1h-1zM504 277h1v1h-1zM113 278h1v1h-1zM505 278h1v1h-1zM112 279h1v1h-1zM505 279h1v1h-1zM68 280h2v1h-2zM111 280h1v1h-1zM506 280h1v1h-1zM67 281h1v1h-1zM70 281h2v1h-2zM110 281h1v1h-1zM506 281h1v1h-1zM65 282h2v1h-2zM72 282h2v1h-2zM109 282h1v1h-1zM507 282h1v1h-1zM64 283h1v1h-1zM74 283h2v1h-2zM108 283h1v1h-1zM507 283h1v1h-1zM4 284h1v1h-1zM63 284h1v1h-1zM76 284h1v1h-1zM106 284h2v1h-2zM508 284h1v1h-1zM5 285h1v1h-1zM61 285h2v1h-2zM77 285h2v1h-2zM104 285h2v1h-2zM509 285h1v1h-1zM6 286h1v1h-1zM59 286h2v1h-2zM79 286h1v1h-1zM102 286h2v1h-2zM509 286h1v1h-1zM7 287h1v1h-1zM41 287h6v1h-6zM57 287h2v1h-2zM80 287h1v1h-1zM97 287h5v1h-5zM510 287h1v1h-1zM8 288h1v1h-1zM33 288h8v1h-8zM47 288h4v1h-4zM54 288h3v1h-3zM81 288h2v1h-2zM91 288h6v1h-6zM511 288h1v1h-1zM9 289h1v1h-1zM27 289h6v1h-6zM51 289h3v1h-3zM83 289h1v1h-1zM87 289h4v1h-4zM511 289h1v1h-1zM10 290h1v1h-1zM23 290h4v1h-4zM84 290h3v1h-3zM512 290h1v1h-1zM11 291h1v1h-1zM17 291h6v1h-6zM513 291h1v1h-1zM12 292h5v1h-5zM513 292h1v1h-1zM514 293h1v1h-1zM625 293h12v1h-12zM515 294h1v1h-1zM619 294h6v1h-6zM637 294h1v1h-1zM515 295h1v1h-1zM617 295h2v1h-2zM637 295h1v1h-1zM516 296h1v1h-1zM614 296h3v1h-3zM638 296h1v1h-1zM517 297h1v1h-1zM612 297h2v1h-2zM639 297h1v1h-1zM518 298h1v1h-1zM611 298h1v1h-1zM640 298h1v1h-1zM518 299h1v1h-1zM609 299h2v1h-2zM640 299h1v1h-1zM519 300h1v1h-1zM608 300h1v1h-1zM641 300h1v1h-1zM520 301h1v1h-1zM607 301h1v1h-1zM642 301h1v1h-1zM521 302h1v1h-1zM605 302h2v1h-2zM643 302h1v1h-1zM522 303h1v1h-1zM604 303h1v1h-1zM643 303h1v1h-1zM522 304h1v1h-1zM603 304h1v1h-1zM644 304h1v1h-1zM523 305h1v1h-1zM602 305h1v1h-1zM645 305h1v1h-1zM524 306h1v1h-1zM601 306h1v1h-1zM646 306h1v1h-1zM525 307h1v1h-1zM600 307h1v1h-1zM647 307h1v1h-1zM526 308h1v1h-1zM599 308h1v1h-1zM648 308h1v1h-1zM527 309h1v1h-1zM598 309h1v1h-1zM648 309h1v1h-1zM528 310h1v1h-1zM597 310h1v1h-1zM649 310h1v1h-1zM528 311h1v1h-1zM595 311h2v1h-2zM650 311h1v1h-1zM529 312h1v1h-1zM593 312h2v1h-2zM651 312h1v1h-1zM530 313h1v1h-1zM590 313h3v1h-3zM652 313h1v1h-1zM531 314h1v1h-1zM588 314h2v1h-2zM653 314h1v1h-1zM532 315h1v1h-1zM587 315h1v1h-1zM654 315h1v1h-1zM533 316h1v1h-1zM586 316h1v1h-1zM655 316h1v1h-1zM534 317h1v1h-1zM585 317h1v1h-1zM656 317h1v1h-1zM535 318h1v1h-1zM584 318h1v1h-1zM657 318h1v1h-1zM536 319h1v1h-1zM583 319h1v1h-1zM658 319h1v1h-1zM537 320h1v1h-1zM582 320h1v1h-1zM659 320h1v1h-1zM538 321h1v1h-1zM581 321h1v1h-1zM660 321h1v1h-1zM539 322h1v1h-1zM580 322h1v1h-1zM661 322h2v1h-2zM540 323h1v1h-1zM578 323h2v1h-2zM663 323h1v1h-1zM541 324h2v1h-2zM577 324h1v1h-1zM664 324h1v1h-1zM543 325h1v1h-1zM575 325h2v1h-2zM665 325h2v1h-2zM771 325h6v1h-6zM544 326h1v1h-1zM573 326h2v1h-2zM667 326h1v1h-1zM769 326h2v1h-2zM777 326h5v1h-5zM545 327h2v1h-2zM571 327h2v1h-2zM668 327h2v1h-2zM766 327h3v1h-3zM782 327h2v1h-2zM547 328h1v1h-1zM569 328h2v1h-2zM670 328h2v1h-2zM764 328h2v1h-2zM784 328h2v1h-2zM548 329h3v1h-3zM566 329h3v1h-3zM672 329h2v1h-2zM763 329h1v1h-1zM786 329h2v1h-2zM551 330h4v1h-4zM561 330h5v1h-5zM674 330h2v1h-2zM761 330h2v1h-2zM788 330h1v1h-1zM555 331h6v1h-6zM676 331h2v1h-2zM760 331h1v1h-1zM789 331h1v1h-1zM678 332h3v1h-3zM759 332h1v1h-1zM790 332h1v1h-1zM681 333h2v1h-2zM757 333h2v1h-2zM791 333h1v1h-1zM683 334h2v1h-2zM756 334h1v1h-1zM792 334h1v1h-1zM685 335h2v1h-2zM755 335h1v1h-1zM792 335h1v1h-1zM687 336h1v1h-1zM754 336h1v1h-1zM793 336h1v1h-1zM688 337h1v1h-1zM753 337h1v1h-1zM794 337h1v1h-1zM689 338h2v1h-2zM752 338h1v1h-1zM795 338h1v1h-1zM691 339h1v1h-1zM751 339h1v1h-1zM796 339h1v1h-1zM692 340h1v1h-1zM740 340h3v1h-3zM750 340h1v1h-1zM797 340h1v1h-1zM693 341h2v1h-2zM738 341h2v1h-2zM743 341h4v1h-4zM749 341h1v1h-1zM798 341h1v1h-1zM695 342h2v1h-2zM737 342h1v1h-1zM747 342h2v1h-2zM799 342h2v1h-2zM697 343h1v1h-1zM735 343h2v1h-2zM801 343h1v1h-1zM698 344h2v1h-2zM733 344h2v1h-2zM802 344h1v1h-1zM700 345h2v1h-2zM732 345h1v1h-1zM803 345h1v1h-1zM702 346h2v1h-2zM731 346h1v1h-1zM804 346h1v1h-1zM704 347h2v1h-2zM730 347h1v1h-1zM805 347h1v1h-1zM706 348h2v1h-2zM729 348h1v1h-1zM806 348h1v1h-1zM708 349h3v1h-3zM727 349h2v1h-2zM807 349h1v1h-1zM711 350h4v1h-4zM726 350h1v1h-1zM808 350h1v1h-1zM715 351h6v1h-6zM725 351h1v1h-1zM809 351h1v1h-1zM721 352h4v1h-4zM810 352h1v1h-1zM811 353h1v1h-1zM812 354h1v1h-1zM813 355h1v1h-1zM814 356h1v1h-1zM814 357h1v1h-1zM815 358h1v1h-1zM816 359h1v1h-1zM817 360h1v1h-1zM818 361h1v1h-1zM818 362h1v1h-1zM819 363h1v1h-1zM820 364h1v1h-1zM821 365h1v1h-1zM822 366h1v1h-1zM823 367h2v1h-2zM825 368h1v1h-1zM826 369h1v1h-1zM827 370h1v1h-1zM828 371h1v1h-1zM829 372h1v1h-1zM829 373h1v1h-1zM830 374h1v1h-1zM831 375h1v1h-1zM831 376h1v1h-1zM832 377h1v1h-1zM833 378h1v1h-1zM833 379h1v1h-1zM834 380h1v1h-1zM835 381h1v1h-1zM835 382h1v1h-1zM836 383h1v1h-1zM837 384h1v1h-1zM837 385h1v1h-1zM953 385h4v1h-4zM838 386h1v1h-1zM947 386h6v1h-6zM957 386h2v1h-2zM838 387h1v1h-1zM945 387h2v1h-2zM959 387h2v1h-2zM839 388h1v1h-1zM942 388h3v1h-3zM961 388h1v1h-1zM839 389h1v1h-1zM931 389h11v1h-11zM962 389h2v1h-2zM840 390h1v1h-1zM927 390h4v1h-4zM964 390h1v1h-1zM840 391h1v1h-1zM924 391h3v1h-3zM965 391h1v1h-1zM841 392h1v1h-1zM922 392h2v1h-2zM966 392h1v1h-1zM841 393h1v1h-1zM921 393h1v1h-1zM966 393h1v1h-1zM842 394h1v1h-1zM919 394h2v1h-2zM967 394h1v1h-1zM842 395h1v1h-1zM917 395h2v1h-2zM968 395h1v1h-1zM843 396h1v1h-1zM916 396h1v1h-1zM969 396h1v1h-1zM843 397h1v1h-1zM914 397h2v1h-2zM970 397h1v1h-1zM844 398h1v1h-1zM913 398h1v1h-1zM970 398h1v1h-1zM845 399h1v1h-1zM911 399h2v1h-2zM971 399h1v1h-1zM845 400h1v1h-1zM909 400h2v1h-2zM972 400h1v1h-1zM846 401h1v1h-1zM908 401h1v1h-1zM973 401h1v1h-1zM847 402h1v1h-1zM907 402h1v1h-1zM974 402h1v1h-1zM848 403h1v1h-1zM906 403h1v1h-1zM975 403h1v1h-1zM848 404h1v1h-1zM905 404h1v1h-1zM976 404h1v1h-1zM849 405h1v1h-1zM904 405h1v1h-1zM977 405h1v1h-1zM850 406h1v1h-1zM903 406h1v1h-1zM978 406h1v1h-1zM851 407h1v1h-1zM902 407h1v1h-1zM979 407h1v1h-1zM851 408h1v1h-1zM901 408h1v1h-1zM980 408h1v1h-1zM852 409h2v1h-2zM900 409h1v1h-1zM981 409h1v1h-1zM854 410h3v1h-3zM899 410h1v1h-1zM982 410h1v1h-1zM857 411h2v1h-2zM897 411h2v1h-2zM982 411h1v1h-1zM859 412h4v1h-4zM896 412h1v1h-1zM983 412h1v1h-1zM863 413h4v1h-4zM895 413h1v1h-1zM984 413h1v1h-1zM867 414h4v1h-4zM893 414h2v1h-2zM985 414h1v1h-1zM871 415h4v1h-4zM891 415h2v1h-2zM986 415h1v1h-1zM875 416h4v1h-4zM889 416h2v1h-2zM986 416h1v1h-1zM879 417h4v1h-4zM886 417h3v1h-3zM987 417h1v1h-1zM883 418h3v1h-3zM988 418h1v1h-1zM989 419h2v1h-2zM991 420h1v1h-1zM992 421h1v1h-1zM993 422h2v1h-2zM995 423h1v1h-1zM996 424h1v1h-1zM997 425h2v1h-2zM999 426h1v1h-1zM1000 427h1v1h-1zM1001 428h2v1h-2zM1003 429h1v1h-1zM1004 430h1v1h-1zM1005 431h1v1h-1zM1006 432h1v1h-1zM1007 433h1v1h-1zM1008 434h1v1h-1zM1009 435h1v1h-1zM1010 436h1v1h-1zM1011 437h1v1h-1zM1012 438h1v1h-1zM1013 439h1v1h-1zM1013 440h1v1h-1zM1014 441h1v1h-1zM1015 442h1v1h-1zM1016 443h1v1h-1zM1016 444h1v1h-1zM1017 445h1v1h-1zM1018 446h1v1h-1zM1019 447h1v1h-1zM1019 448h1v1h-1zM1020 449h1v1h-1zM1021 450h1v1h-1zM1105 450h11v1h-11zM1022 451h1v1h-1zM1100 451h5v1h-5zM1023 452h1v1h-1zM1098 452h2v1h-2zM1024 453h1v1h-1zM1097 453h1v1h-1zM1025 454h1v1h-1zM1095 454h2v1h-2zM1026 455h1v1h-1zM1093 455h2v1h-2zM1027 456h1v1h-1zM1092 456h1v1h-1zM1028 457h1v1h-1zM1091 457h1v1h-1zM1029 458h1v1h-1zM1090 458h1v1h-1zM1030 459h1v1h-1zM1089 459h1v1h-1zM1031 460h2v1h-2zM1087 460h2v1h-2zM1033 461h1v1h-1zM1086 461h1v1h-1zM1034 462h1v1h-1zM1085 462h1v1h-1zM1035 463h1v1h-1zM1084 463h1v1h-1zM1036 464h5v1h-5zM1083 464h1v1h-1zM1041 465h4v1h-4zM1082 465h1v1h-1zM1045 466h2v1h-2zM1081 466h1v1h-1zM1047 467h2v1h-2zM1079 467h2v1h-2zM1049 468h1v1h-1zM1078 468h1v1h-1zM1050 469h2v1h-2zM1077 469h1v1h-1zM1052 470h1v1h-1zM1076 470h1v1h-1zM1053 471h2v1h-2zM1075 471h1v1h-1zM1055 472h2v1h-2zM1073 472h2v1h-2zM1057 473h1v1h-1zM1072 473h1v1h-1zM1058 474h2v1h-2zM1071 474h1v1h-1zM1060 475h5v1h-5zM1069 475h2v1h-2zM1065 476h4v1h-4z" fill="#ff0000"/>
<path d="M284 147h1v1h-1zM283 148h1v1h-1zM285 148h1v1h-1zM282 149h1v1h-1zM285 149h1v1h-1zM281 150h1v1h-1zM286 150h1v1h-1zM280 151h1v1h-1zM287 151h1v1h-1zM280 152h1v1h-1zM288 152h1v1h-1zM279 153h1v1h-1zM288 153h1v1h-1zM278 154h1v1h-1zM289 154h1v1h-1zM277 155h1v1h-1zM290 155h1v1h-1zM276 156h1v1h-1zM291 156h1v1h-1zM275 157h1v1h-1zM291 157h1v1h-1zM274 158h1v1h-1zM292 158h1v1h-1zM273 159h1v1h-1zM293 159h1v1h-1zM272 160h1v1h-1zM294 160h1v1h-1zM272 161h1v1h-1zM295 161h2v1h-2zM271 162h1v1h-1zM297 162h1v1h-1zM270 163h1v1h-1zM298 163h1v1h-1zM269 164h1v1h-1zM299 164h1v1h-1zM268 165h1v1h-1zM300 165h1v1h-1zM267 166h1v1h-1zM300 166h1v1h-1zM267 167h1v1h-1zM301 167h1v1h-1zM266 168h1v1h-1zM301 168h1v1h-1zM265 169h1v1h-1zM301 169h1v1h-1zM265 170h1v1h-1zM302 170h1v1h-1zM264 171h1v1h-1zM302 171h1v1h-1zM263 172h1v1h-1zM302 172h1v1h-1zM263 173h1v1h-1zM303 173h1v1h-1zM262 174h1v1h-1zM303 174h1v1h-1zM261 175h1v1h-1zM303 175h1v1h-1zM261 176h1v1h-1zM304 176h1v1h-1zM260 177h1v1h-1zM304 177h1v1h-1zM260 178h1v1h-1zM304 178h1v1h-1zM259 179h1v1h-1zM305 179h1v1h-1zM259 180h1v1h-1zM305 180h1v1h-1zM259 181h1v1h-1zM305 181h1v1h-1zM259 182h1v1h-1zM306 182h1v1h-1zM258 183h1v1h-1zM306 183h1v1h-1zM258 184h1v1h-1zM306 184h1v1h-1zM258 185h1v1h-1zM307 185h1v1h-1zM428 185h2v1h-2zM258 186h1v1h-1zM307 186h1v1h-1zM426 186h2v1h-2zM430 186h3v1h-3zM257 187h1v1h-1zM307 187h1v1h-1zM424 187h2v1h-2zM433 187h2v1h-2zM257 188h1v1h-1zM308 188h1v1h-1zM422 188h2v1h-2zM435 188h2v1h-2zM257 189h1v1h-1zM308 189h1v1h-1zM420 189h2v1h-2zM437 189h1v1h-1zM257 190h1v1h-1zM308 190h1v1h-1zM418 190h2v1h-2zM438 190h1v1h-1zM256 191h1v1h-1zM309 191h1v1h-1zM417 191h1v1h-1zM438 191h1v1h-1zM256 192h1v1h-1zM309 192h1v1h-1zM415 192h2v1h-2zM439 192h1v1h-1zM256 193h1v1h-1zM309 193h1v1h-1zM413 193h2v1h-2zM440 193h1v1h-1zM255 194h1v1h-1zM310 194h1v1h-1zM412 194h1v1h-1zM441 194h1v1h-1zM255 195h1v1h-1zM310 195h1v1h-1zM412 195h1v1h-1zM442 195h1v1h-1zM255 196h1v1h-1zM311 196h1v1h-1zM411 196h1v1h-1zM442 196h1v1h-1zM255 197h1v1h-1zM311 197h1v1h-1zM411 197h1v1h-1zM443 197h1v1h-1zM254 198h1v1h-1zM311 198h1v1h-1zM411 198h1v1h-1zM444 198h1v1h-1zM254 199h1v1h-1zM312 199h1v1h-1zM410 199h1v1h-1zM444 199h1v1h-1zM254 200h1v1h-1zM312 200h1v1h-1zM410 200h1v1h-1zM445 200h1v1h-1zM254 201h1v1h-1zM312 201h1v1h-1zM409 201h1v1h-1zM445 201h1v1h-1zM253 202h1v1h-1zM313 202h1v1h-1zM409 202h1v1h-1zM445 202h1v1h-1zM253 203h1v1h-1zM313 203h1v1h-1zM409 203h1v1h-1zM446 203h1v1h-1zM253 204h1v1h-1zM313 204h1v1h-1zM408 204h1v1h-1zM446 204h1v1h-1zM253 205h1v1h-1zM314 205h1v1h-1zM408 205h1v1h-1zM446 205h1v1h-1zM252 206h1v1h-1zM314 206h1v1h-1zM408 206h1v1h-1zM447 206h1v1h-1zM196 207h1v1h-1zM252 207h1v1h-1zM315 207h1v1h-1zM407 207h1v1h-1zM447 207h1v1h-1zM195 208h1v1h-1zM197 208h1v1h-1zM251 208h1v1h-1zM315 208h1v1h-1zM407 208h1v1h-1zM447 208h1v1h-1zM195 209h1v1h-1zM197 209h1v1h-1zM251 209h1v1h-1zM315 209h1v1h-1zM407 209h1v1h-1zM448 209h1v1h-1zM194 210h1v1h-1zM198 210h1v1h-1zM250 210h1v1h-1zM316 210h1v1h-1zM406 210h1v1h-1zM448 210h1v1h-1zM193 211h1v1h-1zM198 211h1v1h-1zM250 211h1v1h-1zM316 211h1v1h-1zM406 211h1v1h-1zM448 211h1v1h-1zM192 212h1v1h-1zM199 212h1v1h-1zM249 212h1v1h-1zM317 212h1v1h-1zM405 212h1v1h-1zM449 212h1v1h-1zM192 213h1v1h-1zM199 213h1v1h-1zM249 213h1v1h-1zM317 213h1v1h-1zM405 213h1v1h-1zM449 213h1v1h-1zM191 214h1v1h-1zM200 214h1v1h-1zM248 214h1v1h-1zM318 214h1v1h-1zM405 214h1v1h-1zM449 214h1v1h-1zM190 215h1v1h-1zM200 215h1v1h-1zM248 215h1v1h-1zM318 215h1v1h-1zM404 215h1v1h-1zM450 215h1v1h-1zM189 216h1v1h-1zM201 216h1v1h-1zM247 216h1v1h-1zM319 216h1v1h-1zM404 216h1v1h-1zM450 216h1v1h-1zM189 217h1v1h-1zM201 217h1v1h-1zM247 217h1v1h-1zM319 217h1v1h-1zM403 217h1v1h-1zM450 217h1v1h-1zM188 218h1v1h-1zM202 218h1v1h-1zM212 218h1v1h-1zM246 218h1v1h-1zM320 218h1v1h-1zM402 218h1v1h-1zM451 218h1v1h-1zM187 219h1v1h-1zM202 219h1v1h-1zM210 219h2v1h-2zM213 219h2v1h-2zM246 219h1v1h-1zM320 219h1v1h-1zM402 219h1v1h-1zM451 219h1v1h-1zM187 220h1v1h-1zM203 220h1v1h-1zM208 220h2v1h-2zM215 220h2v1h-2zM245 220h1v1h-1zM321 220h1v1h-1zM401 220h1v1h-1zM451 220h1v1h-1zM186 221h1v1h-1zM203 221h1v1h-1zM206 221h2v1h-2zM217 221h1v1h-1zM236 221h5v1h-5zM245 221h1v1h-1zM321 221h1v1h-1zM400 221h1v1h-1zM452 221h1v1h-1zM185 222h1v1h-1zM204 222h2v1h-2zM218 222h2v1h-2zM234 222h2v1h-2zM241 222h4v1h-4zM322 222h1v1h-1zM399 222h1v1h-1zM452 222h1v1h-1zM185 223h1v1h-1zM220 223h2v1h-2zM233 223h1v1h-1zM322 223h1v1h-1zM398 223h1v1h-1zM452 223h1v1h-1zM184 224h1v1h-1zM222 224h3v1h-3zM231 224h2v1h-2zM323 224h1v1h-1zM398 224h1v1h-1zM453 224h1v1h-1zM183 225h1v1h-1zM225 225h2v1h-2zM229 225h2v1h-2zM323 225h1v1h-1zM397 225h1v1h-1zM453 225h1v1h-1zM183 226h1v1h-1zM227 226h2v1h-2zM324 226h1v1h-1zM396 226h1v1h-1zM454 226h1v1h-1zM182 227h1v1h-1zM324 227h1v1h-1zM396 227h1v1h-1zM454 227h1v1h-1zM181 228h1v1h-1zM325 228h1v1h-1zM395 228h1v1h-1zM454 228h1v1h-1zM181 229h1v1h-1zM325 229h1v1h-1zM395 229h1v1h-1zM455 229h1v1h-1zM180 230h1v1h-1zM326 230h1v1h-1zM394 230h1v1h-1zM455 230h1v1h-1zM179 231h1v1h-1zM326 231h1v1h-1zM394 231h1v1h-1zM456 231h1v1h-1zM179 232h1v1h-1zM327 232h1v1h-1zM393 232h1v1h-1zM456 232h1v1h-1zM178 233h1v1h-1zM327 233h1v1h-1zM393 233h1v1h-1zM456 233h1v1h-1zM177 234h1v1h-1zM328 234h1v1h-1zM393 234h1v1h-1zM457 234h1v1h-1zM177 235h1v1h-1zM328 235h1v1h-1zM392 235h1v1h-1zM457 235h1v1h-1zM176 236h1v1h-1zM329 236h1v1h-1zM392 236h1v1h-1zM458 236h1v1h-1zM175 237h1v1h-1zM329 237h1v1h-1zM391 237h1v1h-1zM458 237h1v1h-1zM175 238h1v1h-1zM330 238h1v1h-1zM391 238h1v1h-1zM458 238h1v1h-1zM164 239h2v1h-2zM174 239h1v1h-1zM330 239h1v1h-1zM391 239h1v1h-1zM459 239h1v1h-1zM163 240h1v1h-1zM166 240h3v1h-3zM173 240h1v1h-1zM331 240h1v1h-1zM390 240h1v1h-1zM459 240h1v1h-1zM162 241h1v1h-1zM169 241h2v1h-2zM173 241h1v1h-1zM331 241h1v1h-1zM390 241h1v1h-1zM460 241h1v1h-1zM161 242h1v1h-1zM171 242h2v1h-2zM332 242h1v1h-1zM389 242h1v1h-1zM460 242h1v1h-1zM159 243h2v1h-2zM332 243h1v1h-1zM389 243h1v1h-1zM460 243h1v1h-1zM148 244h3v1h-3zM158 244h1v1h-1zM333 244h1v1h-1zM388 244h1v1h-1zM461 244h1v1h-1zM147 245h1v1h-1zM151 245h4v1h-4zM157 245h1v1h-1zM333 245h1v1h-1zM388 245h1v1h-1zM461 245h1v1h-1zM146 246h1v1h-1zM155 246h2v1h-2zM334 246h1v1h-1zM387 246h1v1h-1zM462 246h1v1h-1zM146 247h1v1h-1zM334 247h1v1h-1zM387 247h1v1h-1zM462 247h1v1h-1zM145 248h1v1h-1zM335 248h1v1h-1zM386 248h1v1h-1zM462 248h1v1h-1zM144 249h1v1h-1zM335 249h1v1h-1zM385 249h1v1h-1zM463 249h1v1h-1zM143 250h1v1h-1zM336 250h1v1h-1zM385 250h1v1h-1zM463 250h1v1h-1zM142 251h1v1h-1zM336 251h1v1h-1zM384 251h1v1h-1zM463 251h1v1h-1zM142 252h1v1h-1zM337 252h1v1h-1zM383 252h1v1h-1zM464 252h1v1h-1zM141 253h1v1h-1zM337 253h1v1h-1zM383 253h1v1h-1zM464 253h1v1h-1zM140 254h1v1h-1zM338 254h1v1h-1zM382 254h1v1h-1zM465 254h1v1h-1zM139 255h1v1h-1zM338 255h1v1h-1zM381 255h1v1h-1zM465 255h1v1h-1zM139 256h1v1h-1zM339 256h1v1h-1zM381 256h1v1h-1zM465 256h1v1h-1zM138 257h1v1h-1zM339 257h1v1h-1zM380 257h1v1h-1zM466 257h1v1h-1zM138 258h1v1h-1zM340 258h2v1h-2zM379 258h1v1h-1zM466 258h1v1h-1zM137 259h1v1h-1zM342 259h2v1h-2zM378 259h1v1h-1zM466 259h1v1h-1zM136 260h1v1h-1zM344 260h2v1h-2zM378 260h1v1h-1zM467 260h1v1h-1zM136 261h1v1h-1zM346 261h2v1h-2zM377 261h1v1h-1zM467 261h1v1h-1zM135 262h1v1h-1zM348 262h1v1h-1zM376 262h1v1h-1zM468 262h1v1h-1zM134 263h1v1h-1zM349 263h1v1h-1zM375 263h1v1h-1zM468 263h1v1h-1zM134 264h1v1h-1zM349 264h1v1h-1zM374 264h1v1h-1zM468 264h1v1h-1zM133 265h1v1h-1zM350 265h1v1h-1zM374 265h1v1h-1zM469 265h1v1h-1zM133 266h1v1h-1zM350 266h1v1h-1zM373 266h1v1h-1zM469 266h1v1h-1zM132 267h1v1h-1zM351 267h1v1h-1zM372 267h1v1h-1zM469 267h1v1h-1zM131 268h1v1h-1zM351 268h1v1h-1zM371 268h1v1h-1zM469 268h1v1h-1zM65 269h4v1h-4zM131 269h1v1h-1zM352 269h1v1h-1zM369 269h2v1h-2zM470 269h1v1h-1zM43 270h3v1h-3zM60 270h5v1h-5zM69 270h1v1h-1zM130 270h1v1h-1zM352 270h1v1h-1zM368 270h1v1h-1zM470 270h1v1h-1zM39 271h4v1h-4zM46 271h2v1h-2zM58 271h2v1h-2zM70 271h1v1h-1zM129 271h1v1h-1zM353 271h1v1h-1zM367 271h1v1h-1zM470 271h1v1h-1zM36 272h3v1h-3zM48 272h2v1h-2zM56 272h2v1h-2zM70 272h1v1h-1zM129 272h1v1h-1zM353 272h1v1h-1zM365 272h2v1h-2zM471 272h1v1h-1zM612 272h5v1h-5zM35 273h1v1h-1zM50 273h2v1h-2zM54 273h2v1h-2zM71 273h1v1h-1zM128 273h1v1h-1zM354 273h1v1h-1zM364 273h1v1h-1zM471 273h1v1h-1zM611 273h1v1h-1zM617 273h4v1h-4zM35 274h1v1h-1zM52 274h2v1h-2zM72 274h1v1h-1zM127 274h1v1h-1zM354 274h1v1h-1zM362 274h2v1h-2zM471 274h1v1h-1zM609 274h2v1h-2zM621 274h1v1h-1zM34 275h1v1h-1zM73 275h1v1h-1zM127 275h1v1h-1zM355 275h1v1h-1zM360 275h2v1h-2zM471 275h1v1h-1zM608 275h1v1h-1zM622 275h1v1h-1zM34 276h1v1h-1zM74 276h1v1h-1zM126 276h1v1h-1zM355 276h1v1h-1zM358 276h2v1h-2zM472 276h1v1h-1zM607 276h1v1h-1zM623 276h1v1h-1zM33 277h1v1h-1zM74 277h1v1h-1zM125 277h1v1h-1zM356 277h2v1h-2zM472 277h1v1h-1zM605 277h2v1h-2zM624 277h1v1h-1zM33 278h1v1h-1zM75 278h1v1h-1zM125 278h1v1h-1zM472 278h1v1h-1zM603 278h2v1h-2zM624 278h1v1h-1zM32 279h1v1h-1zM76 279h1v1h-1zM121 279h4v1h-4zM473 279h1v1h-1zM601 279h2v1h-2zM625 279h1v1h-1zM31 280h1v1h-1zM76 280h1v1h-1zM116 280h5v1h-5zM473 280h1v1h-1zM598 280h3v1h-3zM626 280h1v1h-1zM31 281h1v1h-1zM77 281h1v1h-1zM115 281h1v1h-1zM473 281h1v1h-1zM596 281h2v1h-2zM627 281h1v1h-1zM30 282h1v1h-1zM77 282h1v1h-1zM115 282h1v1h-1zM473 282h1v1h-1zM594 282h2v1h-2zM628 282h1v1h-1zM30 283h1v1h-1zM78 283h1v1h-1zM114 283h1v1h-1zM474 283h1v1h-1zM592 283h2v1h-2zM629 283h1v1h-1zM29 284h1v1h-1zM78 284h1v1h-1zM113 284h1v1h-1zM474 284h1v1h-1zM590 284h2v1h-2zM629 284h1v1h-1zM29 285h1v1h-1zM79 285h1v1h-1zM113 285h1v1h-1zM474 285h1v1h-1zM588 285h2v1h-2zM630 285h1v1h-1zM28 286h1v1h-1zM79 286h1v1h-1zM112 286h1v1h-1zM475 286h1v1h-1zM587 286h1v1h-1zM631 286h1v1h-1zM26 287h2v1h-2zM80 287h1v1h-1zM111 287h1v1h-1zM475 287h1v1h-1zM585 287h2v1h-2zM631 287h1v1h-1zM25 288h1v1h-1zM80 288h1v1h-1zM111 288h1v1h-1zM475 288h1v1h-1zM584 288h1v1h-1zM632 288h1v1h-1zM23 289h2v1h-2zM80 289h1v1h-1zM110 289h1v1h-1zM475 289h1v1h-1zM583 289h1v1h-1zM633 289h1v1h-1zM21 290h2v1h-2zM81 290h1v1h-1zM109 290h1v1h-1zM476 290h1v1h-1zM581 290h2v1h-2zM633 290h1v1h-1zM19 291h2v1h-2zM81 291h1v1h-1zM109 291h1v1h-1zM476 291h1v1h-1zM580 291h1v1h-1zM634 291h1v1h-1zM15 292h4v1h-4zM82 292h1v1h-1zM108 292h1v1h-1zM477 292h1v1h-1zM579 292h1v1h-1zM635 292h1v1h-1zM12 293h3v1h-3zM82 293h1v1h-1zM107 293h1v1h-1zM477 293h1v1h-1zM579 293h1v1h-1zM635 293h1v1h-1zM11 294h1v1h-1zM83 294h1v1h-1zM106 294h1v1h-1zM478 294h1v1h-1zM578 294h1v1h-1zM636 294h1v1h-1zM10 295h1v1h-1zM83 295h1v1h-1zM106 295h1v1h-1zM478 295h1v1h-1zM578 295h1v1h-1zM636 295h1v1h-1zM740 295h3v1h-3zM9 296h1v1h-1zM84 296h1v1h-1zM105 296h1v1h-1zM479 296h1v1h-1zM577 296h1v1h-1zM637 296h1v1h-1zM739 296h1v1h-1zM743 296h4v1h-4zM8 297h1v1h-1zM84 297h1v1h-1zM104 297h1v1h-1zM479 297h1v1h-1zM576 297h1v1h-1zM637 297h1v1h-1zM738 297h1v1h-1zM747 297h3v1h-3zM7 298h1v1h-1zM85 298h1v1h-1zM103 298h1v1h-1zM480 298h1v1h-1zM576 298h1v1h-1zM637 298h1v1h-1zM737 298h1v1h-1zM750 298h2v1h-2zM6 299h1v1h-1zM86 299h1v1h-1zM102 299h1v1h-1zM481 299h1v1h-1zM575 299h1v1h-1zM637 299h1v1h-1zM735 299h2v1h-2zM752 299h2v1h-2zM5 300h1v1h-1zM87 300h1v1h-1zM102 300h1v1h-1zM481 300h1v1h-1zM574 300h1v1h-1zM638 300h1v1h-1zM734 300h1v1h-1zM754 300h2v1h-2zM4 301h1v1h-1zM88 301h1v1h-1zM101 301h1v1h-1zM482 301h1v1h-1zM574 301h1v1h-1zM638 301h1v1h-1zM733 301h1v1h-1zM756 301h5v1h-5zM88 302h1v1h-1zM100 302h1v1h-1zM482 302h1v1h-1zM573 302h1v1h-1zM638 302h1v1h-1zM732 302h1v1h-1zM761 302h4v1h-4zM89 303h1v1h-1zM98 303h2v1h-2zM483 303h1v1h-1zM573 303h1v1h-1zM639 303h1v1h-1zM732 303h1v1h-1zM765 303h1v1h-1zM90 304h1v1h-1zM96 304h2v1h-2zM483 304h1v1h-1zM572 304h1v1h-1zM639 304h1v1h-1zM731 304h1v1h-1zM766 304h1v1h-1zM91 305h1v1h-1zM94 305h2v1h-2zM484 305h1v1h-1zM571 305h1v1h-1zM639 305h1v1h-1zM731 305h1v1h-1zM767 305h1v1h-1zM92 306h2v1h-2zM484 306h1v1h-1zM571 306h1v1h-1zM639 306h1v1h-1zM730 306h1v1h-1zM768 306h1v1h-1zM485 307h1v1h-1zM570 307h1v1h-1zM640 307h1v1h-1zM730 307h1v1h-1zM768 307h1v1h-1zM485 308h1v1h-1zM569 308h1v1h-1zM640 308h1v1h-1zM730 308h1v1h-1zM769 308h1v1h-1zM485 309h1v1h-1zM568 309h1v1h-1zM640 309h1v1h-1zM729 309h1v1h-1zM770 309h1v1h-1zM486 310h1v1h-1zM568 310h1v1h-1zM641 310h1v1h-1zM729 310h1v1h-1zM771 310h1v1h-1zM486 311h1v1h-1zM567 311h1v1h-1zM641 311h1v1h-1zM728 311h1v1h-1zM772 311h1v1h-1zM487 312h1v1h-1zM566 312h1v1h-1zM641 312h1v1h-1zM728 312h1v1h-1zM772 312h1v1h-1zM487 313h1v1h-1zM565 313h1v1h-1zM641 313h1v1h-1zM728 313h1v1h-1zM773 313h1v1h-1zM487 314h1v1h-1zM565 314h1v1h-1zM642 314h1v1h-1zM727 314h1v1h-1zM773 314h1v1h-1zM488 315h1v1h-1zM564 315h1v1h-1zM642 315h1v1h-1zM727 315h1v1h-1zM774 315h1v1h-1zM488 316h1v1h-1zM563 316h1v1h-1zM642 316h1v1h-1zM726 316h1v1h-1zM774 316h1v1h-1zM488 317h1v1h-1zM562 317h1v1h-1zM643 317h1v1h-1zM726 317h1v1h-1zM775 317h1v1h-1zM489 318h1v1h-1zM561 318h1v1h-1zM643 318h1v1h-1zM726 318h1v1h-1zM775 318h1v1h-1zM489 319h1v1h-1zM559 319h2v1h-2zM643 319h1v1h-1zM725 319h1v1h-1zM776 319h1v1h-1zM489 320h1v1h-1zM558 320h1v1h-1zM643 320h1v1h-1zM725 320h1v1h-1zM776 320h1v1h-1zM490 321h1v1h-1zM557 321h1v1h-1zM644 321h1v1h-1zM724 321h1v1h-1zM777 321h1v1h-1zM490 322h1v1h-1zM556 322h1v1h-1zM644 322h1v1h-1zM724 322h1v1h-1zM777 322h1v1h-1zM491 323h1v1h-1zM555 323h1v1h-1zM644 323h1v1h-1zM724 323h1v1h-1zM778 323h1v1h-1zM491 324h1v1h-1zM554 324h1v1h-1zM645 324h1v1h-1zM723 324h1v1h-1zM778 324h1v1h-1zM491 325h1v1h-1zM553 325h1v1h-1zM645 325h1v1h-1zM723 325h1v1h-1zM779 325h1v1h-1zM492 326h1v1h-1zM551 326h2v1h-2zM646 326h1v1h-1zM722 326h1v1h-1zM779 326h1v1h-1zM492 327h1v1h-1zM550 327h1v1h-1zM646 327h1v1h-1zM722 327h1v1h-1zM780 327h1v1h-1zM493 328h1v1h-1zM549 328h1v1h-1zM646 328h1v1h-1zM721 328h1v1h-1zM780 328h1v1h-1zM493 329h1v1h-1zM548 329h1v1h-1zM647 329h1v1h-1zM721 329h1v1h-1zM781 329h1v1h-1zM494 330h1v1h-1zM547 330h1v1h-1zM647 330h1v1h-1zM720 330h1v1h-1zM781 330h1v1h-1zM495 331h1v1h-1zM547 331h1v1h-1zM647 331h1v1h-1zM720 331h1v1h-1zM781 331h1v1h-1zM496 332h1v1h-1zM546 332h1v1h-1zM648 332h1v1h-1zM719 332h1v1h-1zM781 332h1v1h-1zM496 333h1v1h-1zM545 333h1v1h-1zM648 333h1v1h-1zM719 333h1v1h-1zM782 333h1v1h-1zM497 334h1v1h-1zM545 334h1v1h-1zM649 334h1v1h-1zM718 334h1v1h-1zM782 334h1v1h-1zM498 335h1v1h-1zM544 335h1v1h-1zM649 335h1v1h-1zM718 335h1v1h-1zM782 335h1v1h-1zM499 336h1v1h-1zM543 336h1v1h-1zM649 336h1v1h-1zM717 336h1v1h-1zM782 336h1v1h-1zM499 337h1v1h-1zM543 337h1v1h-1zM650 337h1v1h-1zM717 337h1v1h-1zM783 337h1v1h-1zM500 338h1v1h-1zM542 338h1v1h-1zM650 338h1v1h-1zM716 338h1v1h-1zM783 338h1v1h-1zM501 339h1v1h-1zM541 339h1v1h-1zM650 339h1v1h-1zM716 339h1v1h-1zM783 339h1v1h-1zM502 340h1v1h-1zM541 340h1v1h-1zM651 340h1v1h-1zM715 340h1v1h-1zM783 340h1v1h-1zM503 341h1v1h-1zM537 341h4v1h-4zM651 341h1v1h-1zM715 341h1v1h-1zM784 341h1v1h-1zM504 342h1v1h-1zM532 342h5v1h-5zM652 342h1v1h-1zM714 342h1v1h-1zM784 342h1v1h-1zM505 343h1v1h-1zM531 343h1v1h-1zM652 343h1v1h-1zM714 343h1v1h-1zM784 343h1v1h-1zM506 344h1v1h-1zM530 344h1v1h-1zM652 344h1v1h-1zM713 344h1v1h-1zM784 344h1v1h-1zM507 345h1v1h-1zM530 345h1v1h-1zM653 345h1v1h-1zM713 345h1v1h-1zM785 345h1v1h-1zM508 346h2v1h-2zM529 346h1v1h-1zM653 346h1v1h-1zM712 346h1v1h-1zM785 346h1v1h-1zM510 347h2v1h-2zM528 347h1v1h-1zM654 347h1v1h-1zM712 347h1v1h-1zM785 347h1v1h-1zM512 348h2v1h-2zM527 348h1v1h-1zM654 348h1v1h-1zM711 348h1v1h-1zM785 348h1v1h-1zM514 349h2v1h-2zM526 349h1v1h-1zM654 349h1v1h-1zM711 349h1v1h-1zM786 349h1v1h-1zM516 350h3v1h-3zM526 350h1v1h-1zM655 350h1v1h-1zM710 350h1v1h-1zM786 350h1v1h-1zM519 351h4v1h-4zM525 351h1v1h-1zM655 351h1v1h-1zM710 351h1v1h-1zM786 351h1v1h-1zM523 352h2v1h-2zM655 352h1v1h-1zM709 352h1v1h-1zM786 352h1v1h-1zM656 353h1v1h-1zM709 353h1v1h-1zM787 353h1v1h-1zM656 354h1v1h-1zM708 354h1v1h-1zM787 354h1v1h-1zM657 355h1v1h-1zM708 355h1v1h-1zM787 355h1v1h-1zM657 356h1v1h-1zM707 356h1v1h-1zM787 356h1v1h-1zM657 357h1v1h-1zM707 357h1v1h-1zM788 357h1v1h-1zM658 358h1v1h-1zM706 358h1v1h-1zM788 358h1v1h-1zM658 359h1v1h-1zM705 359h1v1h-1zM788 359h1v1h-1zM658 360h1v1h-1zM705 360h1v1h-1zM789 360h1v1h-1zM659 361h1v1h-1zM704 361h1v1h-1zM789 361h1v1h-1zM924 361h1v1h-1zM659 362h1v1h-1zM703 362h1v1h-1zM789 362h1v1h-1zM922 362h2v1h-2zM925 362h2v1h-2zM660 363h1v1h-1zM703 363h1v1h-1zM790 363h1v1h-1zM920 363h2v1h-2zM927 363h1v1h-1zM660 364h1v1h-1zM702 364h1v1h-1zM790 364h1v1h-1zM918 364h2v1h-2zM928 364h1v1h-1zM660 365h1v1h-1zM701 365h1v1h-1zM790 365h1v1h-1zM915 365h3v1h-3zM929 365h2v1h-2zM661 366h1v1h-1zM701 366h1v1h-1zM791 366h1v1h-1zM913 366h2v1h-2zM931 366h1v1h-1zM661 367h1v1h-1zM700 367h1v1h-1zM791 367h1v1h-1zM910 367h3v1h-3zM932 367h2v1h-2zM662 368h1v1h-1zM700 368h1v1h-1zM791 368h1v1h-1zM908 368h2v1h-2zM934 368h3v1h-3zM662 369h1v1h-1zM699 369h1v1h-1zM792 369h1v1h-1zM907 369h1v1h-1zM937 369h2v1h-2zM663 370h1v1h-1zM699 370h1v1h-1zM792 370h1v1h-1zM907 370h1v1h-1zM939 370h2v1h-2zM663 371h1v1h-1zM698 371h1v1h-1zM792 371h1v1h-1zM906 371h1v1h-1zM941 371h2v1h-2zM664 372h1v1h-1zM698 372h1v1h-1zM792 372h1v1h-1zM906 372h1v1h-1zM943 372h1v1h-1zM664 373h1v1h-1zM697 373h1v1h-1zM793 373h1v1h-1zM905 373h1v1h-1zM944 373h1v1h-1zM665 374h1v1h-1zM697 374h1v1h-1zM793 374h1v1h-1zM905 374h1v1h-1zM945 374h2v1h-2zM665 375h1v1h-1zM696 375h1v1h-1zM793 375h1v1h-1zM904 375h1v1h-1zM947 375h1v1h-1zM666 376h1v1h-1zM696 376h1v1h-1zM794 376h1v1h-1zM904 376h1v1h-1zM948 376h1v1h-1zM666 377h1v1h-1zM695 377h1v1h-1zM794 377h1v1h-1zM903 377h1v1h-1zM949 377h1v1h-1zM667 378h1v1h-1zM695 378h1v1h-1zM794 378h1v1h-1zM903 378h1v1h-1zM949 378h1v1h-1zM667 379h1v1h-1zM694 379h1v1h-1zM795 379h1v1h-1zM902 379h1v1h-1zM950 379h1v1h-1zM668 380h1v1h-1zM694 380h1v1h-1zM795 380h1v1h-1zM902 380h1v1h-1zM951 380h1v1h-1zM669 381h1v1h-1zM693 381h1v1h-1zM795 381h1v1h-1zM901 381h1v1h-1zM951 381h1v1h-1zM670 382h1v1h-1zM693 382h1v1h-1zM796 382h1v1h-1zM901 382h1v1h-1zM952 382h1v1h-1zM671 383h1v1h-1zM692 383h1v1h-1zM796 383h1v1h-1zM900 383h1v1h-1zM953 383h1v1h-1zM672 384h1v1h-1zM692 384h1v1h-1zM797 384h1v1h-1zM899 384h1v1h-1zM953 384h1v1h-1zM672 385h1v1h-1zM690 385h2v1h-2zM797 385h1v1h-1zM899 385h1v1h-1zM954 385h1v1h-1zM673 386h1v1h-1zM688 386h2v1h-2zM798 386h1v1h-1zM898 386h1v1h-1zM955 386h1v1h-1zM674 387h1v1h-1zM686 387h2v1h-2zM799 387h1v1h-1zM897 387h1v1h-1zM955 387h1v1h-1zM675 388h1v1h-1zM681 388h5v1h-5zM799 388h1v1h-1zM897 388h1v1h-1zM956 388h1v1h-1zM676 389h5v1h-5zM800 389h1v1h-1zM896 389h1v1h-1zM956 389h1v1h-1zM801 390h1v1h-1zM895 390h1v1h-1zM957 390h1v1h-1zM801 391h1v1h-1zM895 391h1v1h-1zM957 391h1v1h-1zM802 392h1v1h-1zM894 392h1v1h-1zM958 392h1v1h-1zM803 393h1v1h-1zM893 393h1v1h-1zM958 393h1v1h-1zM803 394h1v1h-1zM893 394h1v1h-1zM958 394h1v1h-1zM804 395h1v1h-1zM892 395h1v1h-1zM959 395h1v1h-1zM804 396h1v1h-1zM891 396h1v1h-1zM959 396h1v1h-1zM805 397h1v1h-1zM891 397h1v1h-1zM960 397h1v1h-1zM805 398h1v1h-1zM890 398h1v1h-1zM960 398h1v1h-1zM806 399h1v1h-1zM889 399h1v1h-1zM960 399h1v1h-1zM806 400h1v1h-1zM889 400h1v1h-1zM961 400h1v1h-1zM807 401h1v1h-1zM888 401h1v1h-1zM961 401h1v1h-1zM807 402h1v1h-1zM887 402h1v1h-1zM962 402h1v1h-1zM808 403h1v1h-1zM887 403h1v1h-1zM962 403h1v1h-1zM808 404h1v1h-1zM886 404h1v1h-1zM962 404h1v1h-1zM809 405h1v1h-1zM885 405h1v1h-1zM963 405h1v1h-1zM809 406h1v1h-1zM885 406h1v1h-1zM963 406h1v1h-1zM810 407h1v1h-1zM883 407h2v1h-2zM964 407h1v1h-1zM810 408h1v1h-1zM881 408h2v1h-2zM964 408h1v1h-1zM811 409h1v1h-1zM878 409h3v1h-3zM964 409h1v1h-1zM811 410h1v1h-1zM876 410h2v1h-2zM965 410h1v1h-1zM812 411h1v1h-1zM875 411h1v1h-1zM965 411h1v1h-1zM813 412h1v1h-1zM874 412h1v1h-1zM965 412h1v1h-1zM813 413h1v1h-1zM873 413h1v1h-1zM966 413h1v1h-1zM814 414h1v1h-1zM872 414h1v1h-1zM966 414h1v1h-1zM814 415h1v1h-1zM872 415h1v1h-1zM966 415h1v1h-1zM815 416h1v1h-1zM871 416h1v1h-1zM966 416h1v1h-1zM815 417h1v1h-1zM870 417h1v1h-1zM967 417h1v1h-1zM816 418h1v1h-1zM869 418h1v1h-1zM967 418h1v1h-1zM817 419h1v1h-1zM868 419h1v1h-1zM967 419h1v1h-1zM817 420h1v1h-1zM867 420h1v1h-1zM968 420h1v1h-1zM818 421h1v1h-1zM867 421h1v1h-1zM968 421h1v1h-1zM818 422h1v1h-1zM866 422h1v1h-1zM968 422h1v1h-1zM819 423h1v1h-1zM865 423h1v1h-1zM969 423h1v1h-1zM819 424h1v1h-1zM865 424h1v1h-1zM969 424h1v1h-1zM820 425h1v1h-1zM864 425h1v1h-1zM969 425h1v1h-1zM821 426h2v1h-2zM863 426h1v1h-1zM970 426h1v1h-1zM823 427h2v1h-2zM863 427h1v1h-1zM970 427h1v1h-1zM825 428h1v1h-1zM862 428h1v1h-1zM970 428h1v1h-1zM826 429h2v1h-2zM861 429h1v1h-1zM970 429h1v1h-1zM828 430h2v1h-2zM861 430h1v1h-1zM971 430h1v1h-1zM830 431h2v1h-2zM860 431h1v1h-1zM971 431h1v1h-1zM832 432h2v1h-2zM858 432h2v1h-2zM971 432h1v1h-1zM834 433h2v1h-2zM857 433h1v1h-1zM972 433h1v1h-1zM836 434h3v1h-3zM855 434h2v1h-2zM972 434h1v1h-1zM839 435h4v1h-4zM853 435h2v1h-2zM972 435h1v1h-1zM1115 435h1v1h-1zM843 436h10v1h-10zM973 436h1v1h-1zM1111 436h4v1h-4zM973 437h1v1h-1zM1107 437h4v1h-4zM973 438h1v1h-1zM1105 438h2v1h-2zM974 439h1v1h-1zM1102 439h3v1h-3zM974 440h1v1h-1zM1092 440h10v1h-10zM975 441h1v1h-1zM1091 441h1v1h-1zM975 442h1v1h-1zM1089 442h2v1h-2zM975 443h1v1h-1zM1088 443h1v1h-1zM976 444h1v1h-1zM1087 444h1v1h-1zM976 445h1v1h-1zM1085 445h2v1h-2zM976 446h1v1h-1zM1084 446h1v1h-1zM977 447h1v1h-1zM1083 447h1v1h-1zM977 448h1v1h-1zM1082 448h1v1h-1zM977 449h1v1h-1zM1081 449h1v1h-1zM978 450h1v1h-1zM1080 450h1v1h-1zM978 451h1v1h-1zM1080 451h1v1h-1zM979 452h1v1h-1zM1079 452h1v1h-1zM979 453h1v1h-1zM1078 453h1v1h-1zM979 454h1v1h-1zM1077 454h1v1h-1zM980 455h1v1h-1zM1076 455h1v1h-1zM980 456h1v1h-1zM1075 456h1v1h-1zM981 457h1v1h-1zM1074 457h1v1h-1zM981 458h1v1h-1zM1073 458h1v1h-1zM982 459h1v1h-1zM1072 459h1v1h-1zM983 460h1v1h-1zM1071 460h1v1h-1zM983 461h1v1h-1zM1070 461h1v1h-1zM984 462h1v1h-1zM1069 462h1v1h-1zM985 463h1v1h-1zM1067 463h2v1h-2zM985 464h1v1h-1zM1044 464h13v1h-13zM1063 464h4v1h-4zM986 465h1v1h-1zM1043 465h1v1h-1zM1057 465h6v1h-6zM987 466h1v1h-1zM1042 466h1v1h-1zM987 467h1v1h-1zM1041 467h1v1h-1zM988 468h1v1h-1zM1039 468h2v1h-2zM989 469h1v1h-1zM1038 469h1v1h-1zM989 470h1v1h-1zM1037 470h1v1h-1zM990 471h1v1h-1zM1036 471h1v1h-1zM991 472h1v1h-1zM1034 472h2v1h-2zM992 473h1v1h-1zM1033 473h1v1h-1zM992 474h1v1h-1zM1031 474h2v1h-2zM993 475h1v1h-1zM1029 475h2v1h-2zM994 476h1v1h-1zM1028 476h1v1h-1zM995 477h1v1h-1zM1027 477h1v1h-1zM995 478h1v1h-1zM1026 478h1v1h-1zM996 479h1v1h-1zM1025 479h1v1h-1zM997 480h1v1h-1zM1024 480h1v1h-1zM998 481h1v1h-1zM1024 481h1v1h-1zM999 482h2v1h-2zM1023 482h1v1h-1zM1001 483h1v1h-1zM1022 483h1v1h-1zM1002 484h1v1h-1zM1021 484h1v1h-1zM1003 485h1v1h-1zM1019 485h2v1h-2zM1004 486h3v1h-3zM1017 486h2v1h-2zM1007 487h4v1h-4zM1014 487h3v1h-3zM1011 488h3v1h-3z" fill="#0000cd"/>
<!-- trend line -->
<path d="M716 176h1v1h-1zM717 177h2v1h-2zM719 178h1v1h-1zM720 179h1v1h-1zM721 180h2v1h-2zM723 181h1v1h-1zM724 182h2v1h-2zM726 183h1v1h-1zM727 184h2v1h-2zM729 185h1v1h-1zM730 186h1v1h-1zM731 187h2v1h-2zM733 188h1v1h-1zM734 189h2v1h-2zM736 190h1v1h-1zM737 191h2v1h-2zM739 192h1v1h-1zM740 193h1v1h-1zM741 194h2v1h-2zM743 195h1v1h-1zM744 196h2v1h-2zM746 197h1v1h-1zM747 198h2v1h-2zM749 199h1v1h-1zM750 200h1v1h-1zM751 201h2v1h-2zM753 202h1v1h-1zM754 203h2v1h-2zM756 204h1v1h-1zM757 205h2v1h-2zM759 206h1v1h-1zM760 207h1v1h-1zM761 208h2v1h-2zM763 209h1v1h-1zM764 210h2v1h-2zM766 211h1v1h-1zM767 212h2v1h-2zM769 213h1v1h-1zM770 214h1v1h-1zM771 215h2v1h-2zM773 216h1v1h-1zM774 217h2v1h-2zM776 218h1v1h-1zM777 219h2v1h-2zM779 220h1v1h-1zM780 221h1v1h-1zM781 222h2v1h-2zM783 223h1v1h-1zM784 224h2v1h-2zM786 225h1v1h-1zM787 226h2v1h-2zM789 227h1v1h-1zM790 228h1v1h-1zM791 229h2v1h-2zM793 230h1v1h-1zM794 231h2v1h-2zM796 232h1v1h-1zM797 233h2v1h-2zM799 234h1v1h-1zM800 235h1v1h-1zM801 236h2v1h-2zM803 237h1v1h-1zM804 238h2v1h-2zM806 239h1v1h-1zM807 240h2v1h-2zM809 241h1v1h-1zM810 242h1v1h-1zM811 243h2v1h-2zM813 244h1v1h-1zM814 245h2v1h-2zM816 246h1v1h-1zM817 247h2v1h-2zM819 248h1v1h-1zM820 249h1v1h-1zM821 250h2v1h-2zM823 251h1v1h-1zM824 252h2v1h-2zM826 253h1v1h-1zM827 254h2v1h-2zM829 255h1v1h-1zM830 256h1v1h-1zM831 257h2v1h-2zM833 258h1v1h-1zM834 259h2v1h-2zM836 260h1v1h-1zM837 261h2v1h-2zM839 262h1v1h-1zM840 263h1v1h-1zM841 264h2v1h-2zM843 265h1v1h-1zM844 266h2v1h-2zM846 267h1v1h-1zM847 268h2v1h-2zM849 269h1v1h-1zM850 270h1v1h-1zM851 271h2v1h-2zM853 272h1v1h-1zM854 273h2v1h-2zM856 274h1v1h-1zM857 275h1v1h-1zM858 276h2v1h-2zM860 277h1v1h-1zM861 278h2v1h-2zM863 279h1v1h-1zM864 280h2v1h-2zM866 281h1v1h-1zM867 282h1v1h-1zM868 283h2v1h-2zM870 284h1v1h-1zM871 285h2v1h-2zM873 286h1v1h-1zM874 287h2v1h-2zM876 288h1v1h-1zM877 289h1v1h-1zM878 290h2v1h-2zM880 291h1v1h-1zM881 292h2v1h-2zM883 293h1v1h-1zM884 294h2v1h-2zM886 295h1v1h-1zM887 296h1v1h-1zM888 297h2v1h-2zM890 298h1v1h-1zM891 299h2v1h-2zM893 300h1v1h-1zM894 301h2v1h-2zM896 302h1v1h-1zM897 303h1v1h-1zM898 304h2v1h-2zM900 305h1v1h-1zM901 306h2v1h-2zM903 307h1v1h-1zM904 308h2v1h-2zM906 309h1v1h-1zM907 310h1v1h-1zM908 311h2v1h-2zM910 312h1v1h-1zM911 313h2v1h-2zM913 314h1v1h-1zM914 315h2v1h-2zM916 316h1v1h-1zM917 317h1v1h-1zM918 318h2v1h-2zM920 319h1v1h-1zM921 320h2v1h-2zM923 321h1v1h-1zM924 322h2v1h-2zM926 323h1v1h-1zM927 324h1v1h-1zM928 325h2v1h-2zM930 326h1v1h-1zM931 327h2v1h-2zM933 328h1v1h-1zM934 329h2v1h-2zM936 330h1v1h-1zM937 331h1v1h-1zM938 332h2v1h-2zM940 333h1v1h-1zM941 334h2v1h-2zM943 335h1v1h-1zM944 336h2v1h-2zM946 337h1v1h-1zM947 338h1v1h-1zM948 339h2v1h-2zM950 340h1v1h-1zM951 341h2v1h-2zM953 342h1v1h-1zM954 343h2v1h-2zM956 344h1v1h-1zM957 345h1v1h-1zM958 346h2v1h-2zM960 347h1v1h-1zM961 348h2v1h-2zM963 349h1v1h-1zM964 350h2v1h-2zM966 351h1v1h-1zM967 352h1v1h-1zM968 353h2v1h-2zM970 354h1v1h-1zM971 355h2v1h-2zM973 356h1v1h-1zM974 357h2v1h-2zM976 358h1v1h-1zM977 359h1v1h-1zM978 360h2v1h-2zM980 361h1v1h-1zM981 362h2v1h-2zM983 363h1v1h-1zM984 364h2v1h-2zM986 365h1v1h-1zM987 366h1v1h-1zM988 367h2v1h-2zM990 368h1v1h-1zM991 369h2v1h-2zM993 370h1v1h-1zM994 371h2v1h-2zM996 372h1v1h-1zM997 373h1v1h-1zM998 374h2v1h-2zM1000 375h1v1h-1zM1001 376h2v1h-2zM1003 377h1v1h-1zM1004 378h1v1h-1zM1005 379h2v1h-2zM1007 380h1v1h-1zM1008 381h2v1h-2zM1010 382h1v1h-1zM1011 383h2v1h-2zM1013 384h1v1h-1zM1014 385h1v1h-1zM1015 386h2v1h-2zM1017 387h1v1h-1zM1018 388h2v1h-2zM1020 389h1v1h-1zM1021 390h2v1h-2zM1023 391h1v1h-1zM1024 392h1v1h-1zM1025 393h2v1h-2zM1027 394h1v1h-1zM1028 395h2v1h-2zM1030 396h1v1h-1zM1031 397h2v1h-2zM1033 398h1v1h-1zM1034 399h1v1h-1zM1035 400h2v1h-2zM1037 401h1v1h-1zM1038 402h2v1h-2zM1040 403h1v1h-1zM1041 404h2v1h-2zM1043 405h1v1h-1zM1044 406h1v1h-1zM1045 407h2v1h-2zM1047 408h1v1h-1zM1048 409h2v1h-2zM1050 410h1v1h-1zM1051 411h2v1h-2zM1053 412h1v1h-1zM1054 413h1v1h-1zM1055 414h2v1h-2zM1057 415h1v1h-1zM1058 416h2v1h-2zM1060 417h1v1h-1zM1061 418h2v1h-2zM1063 419h1v1h-1zM1064 420h1v1h-1zM1065 421h2v1h-2zM1067 422h1v1h-1zM1068 423h2v1h-2zM1070 424h1v1h-1zM1071 425h2v1h-2zM1073 426h1v1h-1zM1074 427h1v1h-1zM1075 428h2v1h-2zM1077 429h1v1h-1zM1078 430h2v1h-2zM1080 431h1v1h-1zM1081 432h2v1h-2zM1083 433h1v1h-1zM1084 434h1v1h-1zM1085 435h2v1h-2zM1087 436h1v1h-1zM1088 437h2v1h-2zM1090 438h1v1h-1zM1091 439h2v1h-2zM1093 440h1v1h-1zM1094 441h1v1h-1zM1095 442h2v1h-2zM1097 443h1v1h-1zM1098 444h2v1h-2zM1100 445h1v1h-1zM1101 446h2v1h-2zM1103 447h1v1h-1zM1104 448h1v1h-1zM1105 449h2v1h-2zM1107 450h1v1h-1zM1108 451h2v1h-2zM1110 452h1v1h-1zM1111 453h2v1h-2zM1113 454h1v1h-1zM1114 455h1v1h-1zM1115 456h2v1h-2zM1117 457h1v1h-1zM1118 458h2v1h-2zM1120 459h1v1h-1zM1121 460h2v1h-2zM1123 461h1v1h-1zM1124 462h1v1h-1zM1125 463h2v1h-2zM1127 464h1v1h-1zM1128 465h2v1h-2zM1130 466h1v1h-1zM1131 467h2v1h-2zM1133 468h1v1h-1zM1134 469h1v1h-1zM1135 470h2v1h-2zM1137 471h1v1h-1zM1138 472h2v1h-2zM1140 473h1v1h-1zM1141 474h1v1h-1zM1142 475h2v1h-2zM1144 476h1v1h-1zM1145 477h2v1h-2zM1147 478h1v1h-1zM1148 479h2v1h-2zM1150 480h1v1h-1zM1151 481h1v1h-1zM1152 482h2v1h-2zM1154 483h1v1h-1zM1155 484h2v1h-2zM1157 485h1v1h-1zM1158 486h2v1h-2zM1160 487h1v1h-1zM1161 488h1v1h-1zM1162 489h2v1h-2zM1164 490h1v1h-1zM1165 491h2v1h-2zM1167 492h1v1h-1zM1168 493h2v1h-2zM1170 494h1v1h-1zM1171 495h1v1h-1zM1172 496h2v1h-2zM1174 497h1v1h-1zM1175 498h2v1h-2zM1177 499h1v1h-1zM1178 500h2v1h-2zM1180 501h1v1h-1zM1181 502h1v1h-1zM1182 503h2v1h-2zM1184 504h1v1h-1zM1185 505h2v1h-2zM1187 506h1v1h-1zM1188 507h2v1h-2zM1190 508h1v1h-1zM1191 509h1v1h-1zM1192 510h2v1h-2zM1194 511h1v1h-1zM1195 512h2v1h-2zM1197 513h1v1h-1zM1198 514h2v1h-2zM1200 515h1v1h-1zM1201 516h1v1h-1zM1202 517h2v1h-2zM1204 518h1v1h-1zM1205 519h2v1h-2zM1207 520h1v1h-1zM1208 521h2v1h-2zM1210 522h1v1h-1zM1211 523h1v1h-1zM1212 524h2v1h-2zM1214 525h1v1h-1zM1215 526h2v1h-2zM1217 527h1v1h-1zM1218 528h2v1h-2zM1220 529h1v1h-1zM1221 530h1v1h-1zM1222 531h2v1h-2zM1224 532h1v1h-1zM1225 533h2v1h-2zM1227 534h1v1h-1zM1228 535h2v1h-2zM1230 536h1v1h-1zM1231 537h1v1h-1zM1232 538h2v1h-2zM1234 539h1v1h-1zM1235 540h2v1h-2zM1237 541h1v1h-1zM1238 542h2v1h-2zM1240 543h1v1h-1zM1241 544h1v1h-1zM1242 545h2v1h-2zM1244 546h1v1h-1zM1245 547h2v1h-2zM1247 548h1v1h-1zM1248 549h2v1h-2zM1250 550h1v1h-1zM1251 551h1v1h-1zM1252 552h2v1h-2zM1254 553h1v1h-1zM1255 554h2v1h-2zM1257 555h1v1h-1zM1258 556h2v1h-2zM1260 557h1v1h-1zM1261 558h1v1h-1zM1262 559h2v1h-2zM1264 560h1v1h-1zM1265 561h2v1h-2zM1267 562h1v1h-1zM1268 563h2v1h-2zM1270 564h1v1h-1zM1271 565h1v1h-1zM1272 566h2v1h-2z" fill="#ff0000"/>
<rect x="728" y="319" width="470" height="4" fill="#fb2424"/><rect x="729" y="320" width="468" height="2" fill="#f83838"/>
<rect x="735" y="451" width="460" height="4" fill="#92c600"/><rect x="736" y="452" width="458" height="2" fill="#99cc00"/>
<rect x="4" y="619" width="1" height="26" fill="#c0c0c0"/><rect x="12" y="619" width="1" height="24" fill="#c0c0c0"/><rect x="20" y="619" width="1" height="19" fill="#c0c0c0"/><rect x="28" y="619" width="1" height="10" fill="#c0c0c0"/><rect x="36" y="619" width="1" height="5" fill="#c0c0c0"/><rect x="44" y="619" width="1" height="6" fill="#c0c0c0"/><rect x="52" y="619" width="1" height="11" fill="#c0c0c0"/><rect x="60" y="619" width="1" height="9" fill="#c0c0c0"/><rect x="68" y="619" width="1" height="8" fill="#c0c0c0"/><rect x="76" y="619" width="1" height="13" fill="#c0c0c0"/><rect x="84" y="619" width="1" height="19" fill="#c0c0c0"/><rect x="92" y="619" width="1" height="17" fill="#c0c0c0"/><rect x="100" y="619" width="1" height="14" fill="#c0c0c0"/><rect x="108" y="619" width="1" height="7" fill="#c0c0c0"/><rect x="116" y="615" width="1" height="5" fill="#c0c0c0"/><rect x="124" y="616" width="1" height="4" fill="#c0c0c0"/><rect x="132" y="616" width="1" height="4" fill="#c0c0c0"/><rect x="140" y="613" width="1" height="7" fill="#c0c0c0"/><rect x="148" y="609" width="1" height="11" fill="#c0c0c0"/><rect x="156" y="612" width="1" height="8" fill="#c0c0c0"/><rect x="164" y="607" width="1" height="13" fill="#c0c0c0"/><rect x="172" y="601" width="1" height="19" fill="#c0c0c0"/><rect x="180" y="598" width="1" height="22" fill="#c0c0c0"/><rect x="188" y="592" width="1" height="28" fill="#c0c0c0"/><rect x="196" y="588" width="1" height="32" fill="#c0c0c0"/><rect x="204" y="602" width="1" height="18" fill="#c0c0c0"/><rect x="212" y="606" width="1" height="14" fill="#c0c0c0"/><rect x="220" y="607" width="1" height="13" fill="#c0c0c0"/><rect x="228" y="607" width="1" height="13" fill="#c0c0c0"/><rect x="236" y="599" width="1" height="21" fill="#c0c0c0"/><rect x="244" y="595" width="1" height="25" fill="#c0c0c0"/><rect x="252" y="581" width="1" height="39" fill="#c0c0c0"/><rect x="260" y="576" width="1" height="44" fill="#c0c0c0"/><rect x="268" y="578" width="1" height="42" fill="#c0c0c0"/><rect x="276" y="580" width="1" height="40" fill="#c0c0c0"/><rect x="284" y="581" width="1" height="39" fill="#c0c0c0"/><rect x="292" y="589" width="1" height="31" fill="#c0c0c0"/><rect x="300" y="597" width="1" height="23" fill="#c0c0c0"/><rect x="308" y="605" width="1" height="15" fill="#c0c0c0"/><rect x="316" y="613" width="1" height="7" fill="#c0c0c0"/><rect x="324" y="619" width="1" height="1" fill="#c0c0c0"/><rect x="332" y="619" width="1" height="6" fill="#c0c0c0"/><rect x="340" y="619" width="1" height="11" fill="#c0c0c0"/><rect x="348" y="619" width="1" height="11" fill="#c0c0c0"/><rect x="356" y="619" width="1" height="21" fill="#c0c0c0"/><rect x="364" y="619" width="1" height="16" fill="#c0c0c0"/><rect x="372" y="619" width="1" height="13" fill="#c0c0c0"/><rect x="380" y="619" width="1" height="7" fill="#c0c0c0"/><rect x="388" y="619" width="1" height="3" fill="#c0c0c0"/><rect x="396" y="613" width="1" height="7" fill="#c0c0c0"/><rect x="404" y="610" width="1" height="10" fill="#c0c0c0"/><rect x="412" y="606" width="1" height="14" fill="#c0c0c0"/><rect x="420" y="604" width="1" height="16" fill="#c0c0c0"/><rect x="428" y="605" width="1" height="15" fill="#c0c0c0"/><rect x="436" y="609" width="1" height="11" fill="#c0c0c0"/><rect x="444" y="617" width="1" height="3" fill="#c0c0c0"/><rect x="452" y="619" width="1" height="7" fill="#c0c0c0"/><rect x="460" y="619" width="1" height="16" fill="#c0c0c0"/><rect x="468" y="619" width="1" height="23" fill="#c0c0c0"/><rect x="476" y="619" width="1" height="33" fill="#c0c0c0"/><rect x="484" y="619" width="1" height="35" fill="#c0c0c0"/><rect x="492" y="619" width="1" height="44" fill="#c0c0c0"/><rect x="500" y="619" width="1" height="46" fill="#c0c0c0"/><rect x="508" y="619" width="1" height="48" fill="#c0c0c0"/><rect x="516" y="619" width="1" height="49" fill="#c0c0c0"/><rect x="524" y="619" width="1" height="47" fill="#c0c0c0"/><rect x="532" y="619" width="1" height="41" fill="#c0c0c0"/><rect x="540" y="619" width="1" height="36" fill="#c0c0c0"/><rect x="548" y="619" width="1" height="32" fill="#c0c0c0"/><rect x="556" y="619" width="1" height="29" fill="#c0c0c0"/><rect x="564" y="619" width="1" height="26" fill="#c0c0c0"/><rect x="572" y="619" width="1" height="20" fill="#c0c0c0"/><rect x="580" y="619" width="1" height="12" fill="#c0c0c0"/><rect x="588" y="619" width="1" height="8" fill="#c0c0c0"/><rect x="596" y="619" width="1" height="4" fill="#c0c0c0"/><rect x="604" y="619" width="1" height="4" fill="#c0c0c0"/><rect x="612" y="619" width="1" height="1" fill="#c0c0c0"/><rect x="620" y="619" width="1" height="4" fill="#c0c0c0"/><rect x="628" y="619" width="1" height="9" fill="#c0c0c0"/><rect x="636" y="619" width="1" height="12" fill="#c0c0c0"/><rect x="644" y="619" width="1" height="28" fill="#c0c0c0"/><rect x="652" y="619" width="1" height="35" fill="#c0c0c0"/><rect x="660" y="619" width="1" height="42" fill="#c0c0c0"/><rect x="668" y="619" width="1" height="43" fill="#c0c0c0"/><rect x="676" y="619" width="1" height="40" fill="#c0c0c0"/><rect x="684" y="619" width="1" height="33" fill="#c0c0c0"/><rect x="692" y="619" width="1" height="29" fill="#c0c0c0"/><rect x="700" y="619" width="1" height="24" fill="#c0c0c0"/><rect x="708" y="619" width="1" height="20" fill="#c0c0c0"/><rect x="716" y="619" width="1" height="15" fill="#c0c0c0"/><rect x="724" y="619" width="1" height="8" fill="#c0c0c0"/><rect x="732" y="615" width="1" height="5" fill="#c0c0c0"/><rect x="740" y="610" width="1" height="10" fill="#c0c0c0"/><rect x="748" y="616" width="1" height="4" fill="#c0c0c0"/><rect x="756" y="619" width="1" height="1" fill="#c0c0c0"/><rect x="764" y="619" width="1" height="2" fill="#c0c0c0"/><rect x="772" y="619" width="1" height="7" fill="#c0c0c0"/><rect x="780" y="619" width="1" height="15" fill="#c0c0c0"/><rect x="788" y="619" width="1" height="23" fill="#c0c0c0"/><rect x="796" y="619" width="1" height="31" fill="#c0c0c0"/><rect x="804" y="619" width="1" height="35" fill="#c0c0c0"/><rect x="812" y="619" width="1" height="41" fill="#c0c0c0"/><rect x="820" y="619" width="1" height="45" fill="#c0c0c0"/><rect x="828" y="619" width="1" height="42" fill="#c0c0c0"/><rect x="836" y="619" width="1" height="43" fill="#c0c0c0"/><rect x="844" y="619" width="1" height="43" fill="#c0c0c0"/><rect x="852" y="619" width="1" height="43" fill="#c0c0c0"/><rect x="860" y="619" width="1" height="37" fill="#c0c0c0"/><rect x="868" y="619" width="1" height="32" fill="#c0c0c0"/><rect x="876" y="619" width="1" height="26" fill="#c0c0c0"/><rect x="884" y="619" width="1" height="23" fill="#c0c0c0"/><rect x="892" y="619" width="1" height="16" fill="#c0c0c0"/><rect x="900" y="619" width="1" height="10" fill="#c0c0c0"/><rect x="908" y="619" width="1" height="4" fill="#c0c0c0"/><rect x="916" y="619" width="1" height="2" fill="#c0c0c0"/><rect x="924" y="619" width="1" height="1" fill="#c0c0c0"/><rect x="932" y="619" width="1" height="4" fill="#c0c0c0"/><rect x="940" y="619" width="1" height="7" fill="#c0c0c0"/><rect x="948" y="619" width="1" height="7" fill="#c0c0c0"/><rect x="956" y="619" width="1" height="12" fill="#c0c0c0"/><rect x="964" y="619" width="1" height="24" fill="#c0c0c0"/><rect x="972" y="619" width="1" height="34" fill="#c0c0c0"/><rect x="980" y="619" width="1" height="40" fill="#c0c0c0"/><rect x="988" y="619" width="1" height="45" fill="#c0c0c0"/><rect x="996" y="619" width="1" height="44" fill="#c0c0c0"/><rect x="1004" y="619" width="1" height="39" fill="#c0c0c0"/><rect x="1012" y="619" width="1" height="36" fill="#c0c0c0"/><rect x="1020" y="619" width="1" height="36" fill="#c0c0c0"/><rect x="1028" y="619" width="1" height="35" fill="#c0c0c0"/><rect x="1036" y="619" width="1" height="33" fill="#c0c0c0"/><rect x="1044" y="619" width="1" height="31" fill="#c0c0c0"/><rect x="1052" y="619" width="1" height="29" fill="#c0c0c0"/><rect x="1060" y="619" width="1" height="27" fill="#c0c0c0"/><rect x="1068" y="619" width="1" height="22" fill="#c0c0c0"/><rect x="1076" y="619" width="1" height="17" fill="#c0c0c0"/><rect x="1084" y="619" width="1" height="12" fill="#c0c0c0"/><rect x="1092" y="619" width="1" height="8" fill="#c0c0c0"/><rect x="1100" y="619" width="1" height="9" fill="#c0c0c0"/><rect x="1108" y="619" width="1" height="9" fill="#c0c0c0"/><rect x="1116" y="619" width="1" height="8" fill="#c0c0c0"/>
<path d="M298 585h3v1h-3zM304 585h1v1h-1zM292 586h3v1h-3zM305 586h2v1h-2zM310 586h1v1h-1zM287 587h2v1h-2zM311 587h2v1h-2zM286 588h1v1h-1zM316 588h2v1h-2zM280 589h3v1h-3zM318 589h1v1h-1zM275 590h2v1h-2zM274 591h1v1h-1zM322 591h2v1h-2zM270 592h1v1h-1zM324 592h1v1h-1zM268 593h2v1h-2zM257 594h2v1h-2zM262 594h3v1h-3zM328 594h1v1h-1zM251 595h2v1h-2zM256 595h1v1h-1zM329 595h1v1h-1zM250 596h1v1h-1zM330 596h1v1h-1zM244 597h3v1h-3zM239 598h2v1h-2zM233 599h2v1h-2zM238 599h1v1h-1zM334 599h1v1h-1zM226 600h3v1h-3zM232 600h1v1h-1zM335 600h1v1h-1zM209 601h2v1h-2zM214 601h3v1h-3zM220 601h3v1h-3zM336 601h1v1h-1zM202 602h3v1h-3zM208 602h1v1h-1zM196 603h3v1h-3zM192 605h1v1h-1zM340 605h1v1h-1zM190 606h2v1h-2zM341 606h1v1h-1zM185 607h2v1h-2zM342 607h1v1h-1zM180 608h1v1h-1zM184 608h1v1h-1zM178 609h2v1h-2zM346 610h1v1h-1zM347 611h1v1h-1zM173 612h2v1h-2zM348 612h1v1h-1zM442 612h3v1h-3zM448 612h3v1h-3zM454 612h3v1h-3zM172 613h1v1h-1zM436 613h3v1h-3zM460 613h2v1h-2zM352 614h1v1h-1zM462 614h1v1h-1zM166 615h3v1h-3zM353 615h1v1h-1zM430 615h3v1h-3zM466 615h1v1h-1zM354 616h1v1h-1zM467 616h2v1h-2zM160 617h3v1h-3zM426 617h1v1h-1zM156 618h1v1h-1zM358 618h1v1h-1zM425 618h1v1h-1zM472 618h2v1h-2zM154 619h2v1h-2zM359 619h1v1h-1zM424 619h1v1h-1zM474 619h1v1h-1zM360 620h1v1h-1zM150 621h1v1h-1zM419 621h2v1h-2zM148 622h2v1h-2zM418 622h1v1h-1zM478 622h1v1h-1zM778 622h3v1h-3zM784 622h1v1h-1zM143 623h2v1h-2zM364 623h2v1h-2zM414 623h1v1h-1zM479 623h1v1h-1zM772 623h3v1h-3zM785 623h2v1h-2zM142 624h1v1h-1zM366 624h1v1h-1zM412 624h2v1h-2zM480 624h1v1h-1zM767 624h2v1h-2zM790 624h3v1h-3zM136 625h3v1h-3zM406 625h3v1h-3zM766 625h1v1h-1zM131 626h2v1h-2zM370 626h2v1h-2zM401 626h2v1h-2zM761 626h2v1h-2zM796 626h2v1h-2zM130 627h1v1h-1zM372 627h1v1h-1zM376 627h1v1h-1zM400 627h1v1h-1zM635 627h2v1h-2zM760 627h1v1h-1zM798 627h1v1h-1zM953 627h2v1h-2zM958 627h3v1h-3zM964 627h2v1h-2zM124 628h3v1h-3zM377 628h2v1h-2zM382 628h3v1h-3zM394 628h3v1h-3zM484 628h1v1h-1zM634 628h1v1h-1zM640 628h3v1h-3zM755 628h2v1h-2zM947 628h2v1h-2zM952 628h1v1h-1zM966 628h1v1h-1zM118 629h3v1h-3zM388 629h3v1h-3zM485 629h2v1h-2zM628 629h3v1h-3zM646 629h1v1h-1zM754 629h1v1h-1zM802 629h2v1h-2zM946 629h1v1h-1zM82 630h3v1h-3zM88 630h3v1h-3zM94 630h3v1h-3zM100 630h3v1h-3zM112 630h3v1h-3zM623 630h2v1h-2zM647 630h2v1h-2zM750 630h1v1h-1zM804 630h1v1h-1zM940 630h3v1h-3zM970 630h2v1h-2zM76 631h3v1h-3zM106 631h3v1h-3zM622 631h1v1h-1zM652 631h2v1h-2zM748 631h2v1h-2zM935 631h2v1h-2zM972 631h1v1h-1zM65 632h2v1h-2zM70 632h3v1h-3zM490 632h2v1h-2zM617 632h2v1h-2zM654 632h1v1h-1zM934 632h1v1h-1zM59 633h2v1h-2zM64 633h1v1h-1zM492 633h1v1h-1zM616 633h1v1h-1zM808 633h1v1h-1zM930 633h1v1h-1zM976 633h2v1h-2zM58 634h1v1h-1zM612 634h1v1h-1zM658 634h2v1h-2zM743 634h2v1h-2zM809 634h2v1h-2zM928 634h2v1h-2zM978 634h1v1h-1zM54 635h1v1h-1zM610 635h2v1h-2zM660 635h1v1h-1zM742 635h1v1h-1zM1115 635h1v1h-1zM52 636h2v1h-2zM924 636h1v1h-1zM982 636h2v1h-2zM1114 636h1v1h-1zM46 637h3v1h-3zM496 637h1v1h-1zM606 637h1v1h-1zM664 637h1v1h-1zM814 637h1v1h-1zM922 637h2v1h-2zM984 637h1v1h-1zM1108 637h3v1h-3zM41 638h2v1h-2zM497 638h1v1h-1zM604 638h2v1h-2zM665 638h1v1h-1zM738 638h1v1h-1zM815 638h2v1h-2zM40 639h1v1h-1zM498 639h1v1h-1zM666 639h1v1h-1zM737 639h1v1h-1zM988 639h1v1h-1zM1102 639h3v1h-3zM35 640h2v1h-2zM600 640h1v1h-1zM736 640h1v1h-1zM917 640h2v1h-2zM989 640h2v1h-2zM34 641h1v1h-1zM598 641h2v1h-2zM670 641h3v1h-3zM820 641h1v1h-1zM916 641h1v1h-1zM1096 641h3v1h-3zM30 642h1v1h-1zM821 642h2v1h-2zM1092 642h1v1h-1zM28 643h2v1h-2zM502 643h1v1h-1zM594 643h1v1h-1zM676 643h2v1h-2zM732 643h1v1h-1zM912 643h1v1h-1zM994 643h2v1h-2zM1090 643h2v1h-2zM503 644h2v1h-2zM593 644h1v1h-1zM678 644h1v1h-1zM730 644h2v1h-2zM910 644h2v1h-2zM996 644h1v1h-1zM22 645h3v1h-3zM592 645h1v1h-1zM682 645h1v1h-1zM826 645h2v1h-2zM1000 645h1v1h-1zM1086 645h1v1h-1zM683 646h2v1h-2zM726 646h1v1h-1zM828 646h1v1h-1zM906 646h1v1h-1zM1001 646h2v1h-2zM1084 646h2v1h-2zM16 647h3v1h-3zM588 647h1v1h-1zM688 647h1v1h-1zM724 647h2v1h-2zM904 647h2v1h-2zM10 648h3v1h-3zM508 648h2v1h-2zM586 648h2v1h-2zM689 648h2v1h-2zM832 648h2v1h-2zM1006 648h3v1h-3zM1078 648h3v1h-3zM4 649h3v1h-3zM510 649h1v1h-1zM694 649h1v1h-1zM718 649h3v1h-3zM834 649h1v1h-1zM899 649h2v1h-2zM695 650h2v1h-2zM898 650h1v1h-1zM1012 650h2v1h-2zM1072 650h3v1h-3zM514 651h2v1h-2zM581 651h2v1h-2zM700 651h3v1h-3zM712 651h3v1h-3zM838 651h2v1h-2zM894 651h1v1h-1zM1014 651h1v1h-1zM1067 651h2v1h-2zM516 652h1v1h-1zM580 652h1v1h-1zM706 652h3v1h-3zM840 652h1v1h-1zM892 652h2v1h-2zM1018 652h1v1h-1zM1066 652h1v1h-1zM1019 653h2v1h-2zM1062 653h1v1h-1zM576 654h1v1h-1zM844 654h2v1h-2zM886 654h3v1h-3zM1024 654h1v1h-1zM1060 654h2v1h-2zM520 655h1v1h-1zM574 655h2v1h-2zM846 655h1v1h-1zM1025 655h2v1h-2zM1055 655h2v1h-2zM521 656h2v1h-2zM850 656h1v1h-1zM881 656h2v1h-2zM1030 656h3v1h-3zM1049 656h2v1h-2zM1054 656h1v1h-1zM569 657h2v1h-2zM851 657h2v1h-2zM880 657h1v1h-1zM1036 657h3v1h-3zM1042 657h3v1h-3zM1048 657h1v1h-1zM526 658h1v1h-1zM568 658h1v1h-1zM856 658h3v1h-3zM874 658h3v1h-3zM527 659h2v1h-2zM562 659h3v1h-3zM862 659h3v1h-3zM868 659h3v1h-3zM532 660h3v1h-3zM556 660h3v1h-3zM538 661h3v1h-3zM544 661h3v1h-3zM550 661h3v1h-3z" fill="#ff0000"/>
<path d="M732 723h1v1h-1zM252 724h1v1h-1zM731 724h1v1h-1zM733 724h1v1h-1zM251 725h1v1h-1zM253 725h2v1h-2zM731 725h1v1h-1zM733 725h1v1h-1zM250 726h1v1h-1zM255 726h2v1h-2zM730 726h1v1h-1zM734 726h1v1h-1zM249 727h1v1h-1zM257 727h1v1h-1zM729 727h1v1h-1zM735 727h1v1h-1zM116 728h1v1h-1zM248 728h1v1h-1zM258 728h2v1h-2zM728 728h1v1h-1zM736 728h1v1h-1zM115 729h1v1h-1zM117 729h1v1h-1zM248 729h1v1h-1zM260 729h1v1h-1zM396 729h1v1h-1zM728 729h1v1h-1zM736 729h1v1h-1zM114 730h1v1h-1zM117 730h1v1h-1zM187 730h10v1h-10zM236 730h2v1h-2zM247 730h1v1h-1zM261 730h1v1h-1zM395 730h1v1h-1zM397 730h2v1h-2zM727 730h1v1h-1zM737 730h1v1h-1zM113 731h1v1h-1zM118 731h1v1h-1zM185 731h2v1h-2zM196 731h1v1h-1zM235 731h1v1h-1zM238 731h3v1h-3zM246 731h1v1h-1zM262 731h1v1h-1zM394 731h1v1h-1zM399 731h1v1h-1zM726 731h1v1h-1zM738 731h1v1h-1zM112 732h1v1h-1zM119 732h1v1h-1zM171 732h6v1h-6zM182 732h3v1h-3zM197 732h1v1h-1zM234 732h1v1h-1zM241 732h2v1h-2zM245 732h1v1h-1zM263 732h2v1h-2zM393 732h1v1h-1zM400 732h1v1h-1zM580 732h2v1h-2zM725 732h1v1h-1zM739 732h1v1h-1zM28 733h2v1h-2zM112 733h1v1h-1zM119 733h1v1h-1zM167 733h4v1h-4zM177 733h5v1h-5zM197 733h1v1h-1zM233 733h1v1h-1zM243 733h2v1h-2zM265 733h1v1h-1zM391 733h2v1h-2zM401 733h2v1h-2zM579 733h1v1h-1zM582 733h3v1h-3zM725 733h1v1h-1zM739 733h1v1h-1zM905 733h4v1h-4zM27 734h1v1h-1zM30 734h2v1h-2zM111 734h1v1h-1zM120 734h1v1h-1zM164 734h3v1h-3zM198 734h1v1h-1zM232 734h1v1h-1zM266 734h1v1h-1zM390 734h1v1h-1zM403 734h1v1h-1zM409 734h8v1h-8zM577 734h2v1h-2zM585 734h2v1h-2zM723 734h2v1h-2zM740 734h1v1h-1zM897 734h8v1h-8zM909 734h2v1h-2zM25 735h2v1h-2zM32 735h2v1h-2zM110 735h1v1h-1zM121 735h1v1h-1zM145 735h4v1h-4zM163 735h1v1h-1zM198 735h1v1h-1zM231 735h1v1h-1zM267 735h1v1h-1zM281 735h4v1h-4zM389 735h1v1h-1zM404 735h5v1h-5zM417 735h5v1h-5zM576 735h1v1h-1zM587 735h4v1h-4zM721 735h2v1h-2zM741 735h1v1h-1zM892 735h5v1h-5zM911 735h2v1h-2zM24 736h1v1h-1zM34 736h2v1h-2zM109 736h1v1h-1zM121 736h1v1h-1zM140 736h5v1h-5zM149 736h1v1h-1zM162 736h1v1h-1zM198 736h1v1h-1zM230 736h1v1h-1zM268 736h13v1h-13zM285 736h1v1h-1zM385 736h4v1h-4zM422 736h3v1h-3zM575 736h1v1h-1zM591 736h4v1h-4zM718 736h3v1h-3zM741 736h1v1h-1zM891 736h1v1h-1zM913 736h1v1h-1zM923 736h2v1h-2zM1081 736h8v1h-8zM23 737h1v1h-1zM36 737h1v1h-1zM105 737h4v1h-4zM122 737h1v1h-1zM138 737h2v1h-2zM150 737h1v1h-1zM161 737h1v1h-1zM199 737h1v1h-1zM229 737h1v1h-1zM286 737h1v1h-1zM379 737h6v1h-6zM425 737h2v1h-2zM573 737h2v1h-2zM595 737h3v1h-3zM612 737h1v1h-1zM715 737h3v1h-3zM742 737h1v1h-1zM890 737h1v1h-1zM914 737h2v1h-2zM919 737h4v1h-4zM925 737h1v1h-1zM1075 737h6v1h-6zM1089 737h4v1h-4zM21 738h2v1h-2zM37 738h2v1h-2zM99 738h6v1h-6zM123 738h1v1h-1zM136 738h2v1h-2zM151 738h2v1h-2zM160 738h1v1h-1zM199 738h1v1h-1zM225 738h4v1h-4zM287 738h2v1h-2zM375 738h4v1h-4zM427 738h3v1h-3zM572 738h1v1h-1zM598 738h2v1h-2zM610 738h2v1h-2zM613 738h1v1h-1zM713 738h2v1h-2zM743 738h1v1h-1zM889 738h1v1h-1zM916 738h3v1h-3zM925 738h1v1h-1zM1073 738h2v1h-2zM1093 738h1v1h-1zM19 739h2v1h-2zM39 739h2v1h-2zM97 739h2v1h-2zM123 739h1v1h-1zM134 739h2v1h-2zM153 739h1v1h-1zM159 739h1v1h-1zM200 739h1v1h-1zM219 739h6v1h-6zM289 739h1v1h-1zM364 739h11v1h-11zM430 739h2v1h-2zM570 739h2v1h-2zM600 739h2v1h-2zM608 739h2v1h-2zM614 739h1v1h-1zM684 739h2v1h-2zM710 739h3v1h-3zM743 739h1v1h-1zM873 739h5v1h-5zM887 739h2v1h-2zM926 739h1v1h-1zM1070 739h3v1h-3zM1094 739h1v1h-1zM17 740h2v1h-2zM41 740h1v1h-1zM60 740h5v1h-5zM94 740h3v1h-3zM124 740h10v1h-10zM154 740h1v1h-1zM158 740h1v1h-1zM200 740h1v1h-1zM215 740h4v1h-4zM290 740h1v1h-1zM363 740h1v1h-1zM432 740h2v1h-2zM569 740h1v1h-1zM602 740h2v1h-2zM606 740h2v1h-2zM615 740h1v1h-1zM683 740h1v1h-1zM686 740h2v1h-2zM699 740h11v1h-11zM744 740h1v1h-1zM867 740h6v1h-6zM878 740h3v1h-3zM886 740h1v1h-1zM926 740h1v1h-1zM1068 740h2v1h-2zM1095 740h2v1h-2zM14 741h3v1h-3zM42 741h2v1h-2zM59 741h1v1h-1zM65 741h4v1h-4zM92 741h2v1h-2zM155 741h1v1h-1zM157 741h1v1h-1zM200 741h1v1h-1zM212 741h3v1h-3zM291 741h1v1h-1zM363 741h1v1h-1zM434 741h2v1h-2zM567 741h2v1h-2zM604 741h2v1h-2zM616 741h1v1h-1zM682 741h1v1h-1zM688 741h2v1h-2zM697 741h2v1h-2zM745 741h1v1h-1zM863 741h4v1h-4zM881 741h2v1h-2zM885 741h1v1h-1zM927 741h1v1h-1zM1066 741h2v1h-2zM1097 741h1v1h-1zM11 742h3v1h-3zM44 742h1v1h-1zM58 742h1v1h-1zM69 742h1v1h-1zM91 742h1v1h-1zM156 742h1v1h-1zM201 742h1v1h-1zM211 742h1v1h-1zM292 742h3v1h-3zM362 742h1v1h-1zM436 742h1v1h-1zM539 742h4v1h-4zM565 742h2v1h-2zM616 742h1v1h-1zM681 742h1v1h-1zM690 742h2v1h-2zM694 742h3v1h-3zM745 742h1v1h-1zM764 742h1v1h-1zM860 742h3v1h-3zM883 742h2v1h-2zM927 742h1v1h-1zM1065 742h1v1h-1zM1098 742h1v1h-1zM7 743h4v1h-4zM45 743h2v1h-2zM57 743h1v1h-1zM70 743h1v1h-1zM90 743h1v1h-1zM201 743h1v1h-1zM210 743h1v1h-1zM295 743h4v1h-4zM362 743h1v1h-1zM437 743h2v1h-2zM535 743h4v1h-4zM543 743h4v1h-4zM561 743h4v1h-4zM617 743h1v1h-1zM679 743h2v1h-2zM692 743h2v1h-2zM746 743h1v1h-1zM762 743h2v1h-2zM765 743h2v1h-2zM859 743h1v1h-1zM928 743h1v1h-1zM947 743h2v1h-2zM1063 743h2v1h-2zM1099 743h1v1h-1zM1105 743h11v1h-11zM4 744h3v1h-3zM47 744h2v1h-2zM55 744h2v1h-2zM71 744h1v1h-1zM89 744h1v1h-1zM202 744h1v1h-1zM209 744h1v1h-1zM299 744h6v1h-6zM348 744h1v1h-1zM361 744h1v1h-1zM439 744h1v1h-1zM532 744h3v1h-3zM547 744h14v1h-14zM618 744h1v1h-1zM678 744h1v1h-1zM747 744h1v1h-1zM760 744h2v1h-2zM767 744h1v1h-1zM858 744h1v1h-1zM929 744h1v1h-1zM945 744h2v1h-2zM949 744h1v1h-1zM1004 744h3v1h-3zM1044 744h2v1h-2zM1061 744h2v1h-2zM1100 744h5v1h-5zM49 745h1v1h-1zM54 745h1v1h-1zM72 745h1v1h-1zM88 745h1v1h-1zM202 745h1v1h-1zM208 745h1v1h-1zM305 745h5v1h-5zM346 745h2v1h-2zM349 745h1v1h-1zM361 745h1v1h-1zM440 745h1v1h-1zM530 745h2v1h-2zM619 745h1v1h-1zM677 745h1v1h-1zM747 745h1v1h-1zM758 745h2v1h-2zM768 745h1v1h-1zM858 745h1v1h-1zM929 745h1v1h-1zM942 745h3v1h-3zM950 745h1v1h-1zM1003 745h1v1h-1zM1007 745h4v1h-4zM1042 745h2v1h-2zM1046 745h3v1h-3zM1059 745h2v1h-2zM50 746h2v1h-2zM53 746h1v1h-1zM73 746h1v1h-1zM87 746h1v1h-1zM202 746h1v1h-1zM208 746h1v1h-1zM310 746h3v1h-3zM344 746h2v1h-2zM350 746h1v1h-1zM360 746h1v1h-1zM441 746h2v1h-2zM529 746h1v1h-1zM620 746h1v1h-1zM676 746h1v1h-1zM748 746h10v1h-10zM769 746h2v1h-2zM857 746h1v1h-1zM930 746h1v1h-1zM940 746h2v1h-2zM951 746h2v1h-2zM1001 746h2v1h-2zM1011 746h2v1h-2zM1040 746h2v1h-2zM1049 746h2v1h-2zM1055 746h4v1h-4zM52 747h1v1h-1zM74 747h1v1h-1zM86 747h1v1h-1zM203 747h1v1h-1zM207 747h1v1h-1zM313 747h2v1h-2zM342 747h2v1h-2zM350 747h1v1h-1zM360 747h1v1h-1zM443 747h1v1h-1zM527 747h2v1h-2zM621 747h2v1h-2zM675 747h1v1h-1zM771 747h1v1h-1zM856 747h1v1h-1zM930 747h1v1h-1zM938 747h2v1h-2zM953 747h1v1h-1zM1000 747h1v1h-1zM1013 747h2v1h-2zM1028 747h5v1h-5zM1038 747h2v1h-2zM1051 747h4v1h-4zM75 748h1v1h-1zM85 748h1v1h-1zM203 748h1v1h-1zM206 748h1v1h-1zM315 748h27v1h-27zM351 748h1v1h-1zM359 748h1v1h-1zM444 748h2v1h-2zM525 748h2v1h-2zM623 748h2v1h-2zM673 748h2v1h-2zM772 748h2v1h-2zM828 748h2v1h-2zM855 748h1v1h-1zM931 748h1v1h-1zM936 748h2v1h-2zM954 748h1v1h-1zM999 748h1v1h-1zM1015 748h2v1h-2zM1026 748h2v1h-2zM1033 748h5v1h-5zM76 749h9v1h-9zM204 749h2v1h-2zM352 749h1v1h-1zM359 749h1v1h-1zM446 749h2v1h-2zM484 749h1v1h-1zM523 749h2v1h-2zM625 749h1v1h-1zM672 749h1v1h-1zM774 749h3v1h-3zM827 749h1v1h-1zM830 749h3v1h-3zM854 749h1v1h-1zM931 749h1v1h-1zM934 749h2v1h-2zM955 749h1v1h-1zM997 749h2v1h-2zM1017 749h1v1h-1zM1024 749h2v1h-2zM204 750h1v1h-1zM353 750h1v1h-1zM358 750h1v1h-1zM448 750h2v1h-2zM483 750h1v1h-1zM485 750h1v1h-1zM521 750h2v1h-2zM626 750h2v1h-2zM633 750h4v1h-4zM671 750h1v1h-1zM777 750h2v1h-2zM826 750h1v1h-1zM833 750h2v1h-2zM854 750h1v1h-1zM932 750h2v1h-2zM956 750h1v1h-1zM996 750h1v1h-1zM1018 750h2v1h-2zM1022 750h2v1h-2zM354 751h1v1h-1zM358 751h1v1h-1zM450 751h2v1h-2zM483 751h1v1h-1zM486 751h1v1h-1zM518 751h3v1h-3zM628 751h5v1h-5zM636 751h1v1h-1zM669 751h2v1h-2zM779 751h3v1h-3zM825 751h1v1h-1zM835 751h6v1h-6zM853 751h1v1h-1zM957 751h1v1h-1zM995 751h1v1h-1zM1020 751h2v1h-2zM354 752h1v1h-1zM357 752h1v1h-1zM452 752h2v1h-2zM482 752h1v1h-1zM487 752h1v1h-1zM500 752h18v1h-18zM637 752h1v1h-1zM668 752h1v1h-1zM782 752h3v1h-3zM824 752h1v1h-1zM841 752h12v1h-12zM957 752h1v1h-1zM994 752h1v1h-1zM355 753h1v1h-1zM357 753h1v1h-1zM454 753h3v1h-3zM481 753h1v1h-1zM488 753h1v1h-1zM499 753h1v1h-1zM637 753h1v1h-1zM667 753h1v1h-1zM785 753h2v1h-2zM824 753h1v1h-1zM958 753h1v1h-1zM993 753h1v1h-1zM356 754h1v1h-1zM457 754h2v1h-2zM480 754h1v1h-1zM488 754h1v1h-1zM497 754h2v1h-2zM638 754h1v1h-1zM665 754h2v1h-2zM787 754h4v1h-4zM803 754h3v1h-3zM823 754h1v1h-1zM959 754h1v1h-1zM992 754h1v1h-1zM459 755h10v1h-10zM480 755h1v1h-1zM489 755h1v1h-1zM496 755h1v1h-1zM638 755h1v1h-1zM664 755h1v1h-1zM791 755h4v1h-4zM799 755h4v1h-4zM806 755h3v1h-3zM822 755h1v1h-1zM960 755h1v1h-1zM992 755h1v1h-1zM469 756h2v1h-2zM479 756h1v1h-1zM490 756h1v1h-1zM495 756h1v1h-1zM639 756h1v1h-1zM652 756h3v1h-3zM663 756h1v1h-1zM795 756h4v1h-4zM809 756h2v1h-2zM821 756h1v1h-1zM960 756h1v1h-1zM991 756h1v1h-1zM471 757h2v1h-2zM478 757h1v1h-1zM491 757h1v1h-1zM493 757h2v1h-2zM639 757h1v1h-1zM651 757h1v1h-1zM655 757h4v1h-4zM661 757h2v1h-2zM811 757h10v1h-10zM961 757h1v1h-1zM990 757h1v1h-1zM473 758h1v1h-1zM477 758h1v1h-1zM492 758h1v1h-1zM640 758h1v1h-1zM650 758h1v1h-1zM659 758h2v1h-2zM962 758h1v1h-1zM980 758h5v1h-5zM989 758h1v1h-1zM474 759h2v1h-2zM477 759h1v1h-1zM640 759h1v1h-1zM650 759h1v1h-1zM963 759h1v1h-1zM978 759h2v1h-2zM985 759h4v1h-4zM476 760h1v1h-1zM641 760h1v1h-1zM649 760h1v1h-1zM963 760h1v1h-1zM977 760h1v1h-1zM641 761h1v1h-1zM648 761h1v1h-1zM964 761h3v1h-3zM975 761h2v1h-2zM642 762h1v1h-1zM647 762h1v1h-1zM967 762h4v1h-4zM973 762h2v1h-2zM642 763h1v1h-1zM646 763h1v1h-1zM971 763h2v1h-2zM643 764h1v1h-1zM646 764h1v1h-1zM643 765h1v1h-1zM645 765h1v1h-1zM644 766h1v1h-1z" fill="#1e90ff"/>
</svg>

<!-- title -->
<svg width="20" height="50" viewBox="0 0 20 50"><polygon points="7,39 14,39 10.5,35" fill="#000"/></svg>
<div style="left:18.5px;top:30.8px;font-size:9.5px;line-height:13px;white-space:nowrap;letter-spacing:-0.08px">EURUSD-,Daily&nbsp; 1.12062 1.12080 1.12041 1.12068</div>
<div style="left:8px;top:572.8px;font-size:9.5px;line-height:13px;white-space:nowrap;letter-spacing:-0.1px">MACD(12,26,9) -0.000580 -0.001082</div>
<div style="left:8px;top:679px;font-size:9.5px;line-height:13px;white-space:nowrap;letter-spacing:-0.16px">RSI(14) 47.8560</div>

<!-- one click trading -->
<div style="left:7px;top:48px;width:52px;height:24px;background:linear-gradient(#5858f8,#3838e2);border:1px solid #3030d8;border-bottom:none"></div>
<div style="left:174px;top:48px;width:52px;height:24px;background:linear-gradient(#5858f8,#3838e2);border:1px solid #3030d8;border-bottom:none"></div>
<div style="left:7px;top:72px;width:109px;height:40px;background:linear-gradient(#3a3ae2,#0000ac);border:1px solid #1a1ac4;border-bottom-color:#0000a0"></div>
<div style="left:118px;top:72px;width:108px;height:40px;background:linear-gradient(#3a3ae2,#0000ac);border:1px solid #1a1ac4;border-bottom-color:#0000a0"></div>
<div style="left:11px;top:71px;width:44px;height:2px;background:linear-gradient(#7272f0,#9292f6)"></div>
<div style="left:178px;top:71px;width:44px;height:2px;background:linear-gradient(#7272f0,#9292f6)"></div>
<div style="left:7px;top:52.8px;width:52px;text-align:center;color:#fff;font-size:12px;line-height:15px;letter-spacing:-0.9px">SELL</div>
<div style="left:174px;top:52.8px;width:52px;text-align:center;color:#fff;font-size:12px;line-height:15px;letter-spacing:-0.6px">BUY</div>
<div style="left:61px;top:48px;width:111px;height:22px;background:#fff;border:1px solid #ababab"></div>
<div style="left:62px;top:49px;width:20px;height:20px;background:linear-gradient(#efefef 0,#e9e9e9 45%,#d6d6d6 50%,#cfcfcf 100%);border:1px solid #b4b4b4;border-left-color:#e8e8e8;border-top-color:#e8e8e8"></div>
<div style="left:150px;top:49px;width:21px;height:20px;background:linear-gradient(#efefef 0,#e9e9e9 45%,#d6d6d6 50%,#cfcfcf 100%);border:1px solid #b4b4b4;border-left-color:#e8e8e8;border-top-color:#e8e8e8"></div>
<svg width="240" height="120" viewBox="0 0 240 120" shape-rendering="crispEdges"><path d="M69 57h5v1h-5zM70 58h3v1h-3zM71 59h1v1h-1z" fill="#4a5fc0"/><path d="M160 57h1v1h-1zM159 58h3v1h-3zM158 59h5v1h-5z" fill="#4a5fc0"/></svg>
<div style="left:90px;top:51.6px;width:57.3px;text-align:right;font-size:12.3px;line-height:15px">1.00</div>
<div style="left:27.5px;top:91.5px;color:#fff;font-size:13px;font-weight:bold;line-height:14px;letter-spacing:-0.5px">1.12</div>
<div style="left:53.5px;top:73.2px;color:#fff;font-size:34px;line-height:38px;letter-spacing:-1.2px">06</div>
<div style="left:94px;top:75.5px;color:#fff;font-size:13px;font-weight:bold;line-height:14px">8</div>
<div style="left:137.5px;top:91.5px;color:#fff;font-size:13px;font-weight:bold;line-height:14px;letter-spacing:-0.5px">1.12</div>
<div style="left:164.5px;top:73.2px;color:#fff;font-size:34px;line-height:38px;letter-spacing:-1.2px">08</div>
<div style="left:205px;top:75.5px;color:#fff;font-size:13px;font-weight:bold;line-height:14px">5</div>

<!-- bottom tabs -->
<div style="left:0;top:826px;width:1462px;height:23px;background:#f0f0f0;border-top:1px solid #e3e3e3"></div>
<div style="left:0;top:828px;width:1462px;height:1px;background:#000"></div><div style="left:5px;top:827px;width:108px;height:20px;background:#fff;border-bottom:1px solid #000"></div><div style="left:5px;top:828px;width:1px;height:19px;background:#000"></div><div style="left:112px;top:828px;width:1px;height:19px;background:#000"></div>
<div style="left:0;top:828px;width:1px;height:19px;background:#696969"></div>
<div class="tab" style="left:16px;color:#000">EURUSD-,Daily</div>
<div class="tab" style="left:123px">AUDUSD-,Daily</div><div class="sep" style="left:221px"></div>
<div class="tab" style="left:233px">USDCHF-,Daily</div><div class="sep" style="left:329px"></div>
<div class="tab" style="left:340px">USDCAD-,Daily</div><div class="sep" style="left:437px"></div>
<div class="tab" style="left:449px">USDCNH-,Daily</div><div class="sep" style="left:549px"></div>
<div class="tab" style="left:560px">EURCHF-,Weekly</div><div class="sep" style="left:669px"></div>
<svg width="1462" height="849" viewBox="0 0 1462 849"><polygon points="1438,833.5 1438,840.5 1434.5,837" fill="#8c8c8c"/><polygon points="1454,833.5 1454,840.5 1457.5,837" fill="#8c8c8c"/></svg>
</body></html>
